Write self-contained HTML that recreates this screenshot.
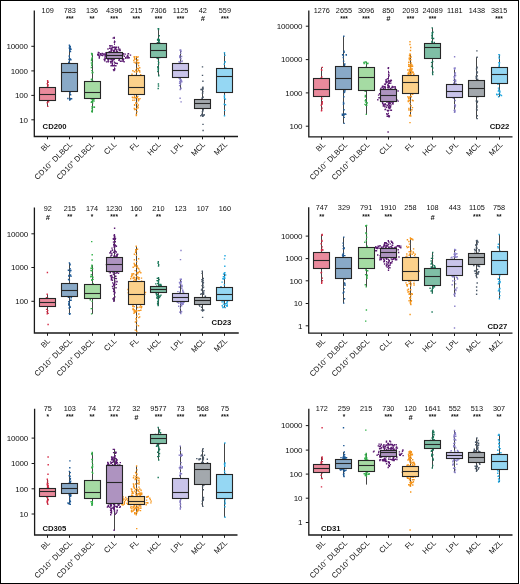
<!DOCTYPE html>
<html><head><meta charset="utf-8"><style>
html,body{margin:0;padding:0;background:#fff;}
body{width:520px;height:584px;position:relative;overflow:hidden;font-family:"Liberation Sans", sans-serif;}
svg text{font-family:"Liberation Sans", sans-serif;fill:#111;}
svg{will-change:transform;}
</style></head><body>
<svg width="520" height="584" viewBox="0 0 520 584" style="position:absolute;left:0;top:0">
<rect x="0" y="0" width="520" height="584" fill="#fff"/>
<rect x="0.5" y="0.5" width="518" height="583" fill="none" stroke="#000" stroke-width="1"/>
<g><line x1="47.5" y1="80.8" x2="47.5" y2="106.4" stroke="#454545" stroke-width="1" stroke-dasharray="none"/><path d="M48.0 84.7h0M47.2 94.5h0M45.9 93.8h0M47.4 93.4h0M48.1 91.8h0M49.1 98.8h0M47.3 102.8h0M47.3 83.8h0M48.0 85.5h0M46.0 95.0h0M47.5 98.2h0M47.5 95.8h0M48.2 101.1h0M47.8 95.5h0M49.2 97.4h0M48.6 91.5h0M46.0 93.3h0M48.6 101.9h0M48.0 98.6h0M48.1 100.1h0M48.1 98.8h0M47.3 97.3h0M46.8 88.1h0M48.2 82.3h0M47.4 87.1h0M47.8 88.3h0M47.3 88.9h0M46.5 95.8h0M47.7 86.8h0M47.4 94.4h0M47.6 80.8h0M47.8 106.4h0" stroke="#d52a45" stroke-width="1.4" stroke-linecap="square" fill="none"/><line x1="69.5" y1="45.2" x2="69.5" y2="100" stroke="#454545" stroke-width="1" stroke-dasharray="none"/><path d="M70.1 91.8h0M69.6 85.8h0M68.4 80.0h0M69.3 56.6h0M69.3 48.1h0M69.7 50.8h0M70.1 93.1h0M69.5 59.0h0M70.4 48.1h0M68.4 71.4h0M70.5 59.7h0M70.3 46.5h0M68.7 62.4h0M69.4 80.6h0M69.9 87.5h0M70.9 69.3h0M69.5 63.1h0M69.6 46.7h0M71.3 83.2h0M69.0 84.6h0M69.3 56.0h0M70.4 58.9h0M71.2 81.4h0M69.0 89.9h0M70.5 51.6h0M68.5 77.5h0M70.6 94.8h0M71.1 90.5h0M69.0 62.3h0M70.2 98.4h0M70.9 87.7h0M69.2 68.8h0M69.0 77.3h0M70.1 64.6h0M69.9 92.8h0M69.4 45.2h0M69.8 100.0h0M67.9 98.5h0M71.6 98.8h0M69.7 100.0h0M70.2 99.2h0M69.9 50.1h0M71.0 49.2h0M70.1 49.5h0M69.0 59.5h0M69.9 59.1h0M70.9 59.8h0M69.6 59.2h0" stroke="#1e5a96" stroke-width="1.4" stroke-linecap="square" fill="none"/><line x1="92.5" y1="53.4" x2="92.5" y2="112" stroke="#454545" stroke-width="1" stroke-dasharray="none"/><path d="M91.9 102.2h0M92.4 109.7h0M93.4 86.2h0M91.8 90.4h0M91.4 67.5h0M91.7 111.2h0M93.4 93.8h0M93.3 81.5h0M92.0 83.2h0M91.8 64.9h0M91.9 79.2h0M92.2 72.8h0M90.5 87.4h0M91.7 90.2h0M90.9 95.0h0M91.3 102.4h0M91.7 93.7h0M92.1 108.4h0M91.5 60.6h0M92.2 85.7h0M92.1 90.2h0M91.6 59.8h0M91.8 65.2h0M91.5 97.9h0M90.5 85.5h0M92.2 54.3h0M93.1 81.9h0M91.9 101.4h0M91.8 102.3h0M92.3 63.1h0M90.7 85.5h0M92.2 57.5h0M91.5 63.0h0M91.6 101.6h0M91.9 70.6h0M91.4 79.5h0M91.4 99.0h0M90.5 85.2h0M92.0 81.2h0M90.7 83.0h0M91.9 58.7h0M91.8 54.7h0M92.1 87.7h0M92.7 102.9h0M92.9 72.5h0M91.6 53.4h0M92.2 112.0h0M92.9 99.4h0M94.0 101.1h0M92.8 100.8h0M93.9 99.6h0M92.1 106.8h0M94.0 107.4h0M94.0 107.0h0M94.4 107.2h0" stroke="#33b24b" stroke-width="1.4" stroke-linecap="square" fill="none"/><line x1="114.5" y1="37.4" x2="114.5" y2="70.5" stroke="#5b1b72" stroke-width="1" stroke-dasharray="1.5 1.5"/><path d="M114.3 37.4h0M113.9 70.5h0M113.2 38.1h0M113.9 37.9h0M114.8 41.7h0M114.4 42.3h0M115.8 47.2h0M109.7 48.3h0M116.4 47.3h0M114.5 47.8h0M110.2 48.1h0M111.9 45.8h0M112.0 48.1h0M111.5 48.1h0M118.4 47.2h0M113.1 47.2h0M115.8 48.2h0M115.2 47.7h0M110.3 46.0h0M111.9 48.1h0M112.4 47.5h0M109.8 45.7h0M111.1 51.2h0M116.6 51.2h0M111.4 50.7h0M113.7 50.5h0M109.2 51.9h0M110.2 52.2h0M119.8 49.1h0M113.6 51.7h0M120.2 50.5h0M111.1 49.7h0M119.9 49.7h0M115.2 49.5h0M114.5 52.1h0M109.4 51.7h0M114.3 51.9h0M116.8 49.8h0M119.3 50.6h0M108.0 49.0h0M114.0 50.5h0M111.6 49.5h0M112.1 50.0h0M118.6 49.0h0M117.4 51.8h0M109.2 52.1h0M121.2 57.9h0M107.2 54.6h0M110.6 58.5h0M117.1 54.5h0M111.8 54.0h0M99.2 52.9h0M125.2 54.1h0M128.5 53.8h0M106.4 55.5h0M103.9 54.6h0M129.2 57.8h0M124.4 56.2h0M127.8 58.1h0M115.8 56.8h0M99.3 56.8h0M112.5 57.0h0M118.9 54.1h0M99.3 58.0h0M101.9 55.2h0M109.0 54.1h0M122.0 58.4h0M106.2 56.4h0M107.6 55.8h0M110.7 53.3h0M103.0 53.6h0M127.5 55.4h0M104.9 57.9h0M130.5 55.1h0M102.3 53.5h0M100.6 54.4h0M100.7 53.8h0M106.2 55.8h0M126.9 56.9h0M111.3 54.9h0M114.9 54.6h0M108.8 52.7h0M106.8 58.3h0M101.8 55.4h0M118.4 57.6h0M104.8 54.0h0M105.8 54.8h0M112.4 58.2h0M125.7 57.7h0M98.4 52.5h0M121.1 57.9h0M113.3 55.9h0M97.7 54.7h0M128.2 57.4h0M125.9 58.3h0M105.8 53.0h0M102.7 55.5h0M120.2 58.1h0M121.5 56.3h0M122.9 55.1h0M115.8 52.5h0M123.5 53.7h0M128.0 56.3h0M107.7 53.1h0M106.0 56.2h0M120.7 53.0h0M100.0 55.6h0M116.9 54.7h0M105.0 56.0h0M98.0 54.2h0M112.9 58.2h0M118.9 57.8h0M113.3 53.8h0M105.8 58.3h0M120.9 54.2h0M98.4 55.4h0M119.9 54.9h0M106.1 56.4h0M128.2 53.7h0M98.8 54.4h0M111.5 56.5h0M108.1 61.3h0M118.9 60.3h0M108.3 61.9h0M110.4 61.4h0M108.8 59.3h0M119.4 59.5h0M123.2 60.2h0M107.9 59.3h0M112.5 60.8h0M123.1 59.0h0M112.0 59.2h0M123.6 59.0h0M105.2 58.7h0M112.0 61.6h0M121.8 61.1h0M124.1 61.8h0M110.7 59.1h0M122.9 61.1h0M104.8 60.8h0M111.7 59.8h0M110.8 59.1h0M104.2 59.5h0M111.2 61.8h0M106.6 61.9h0M108.3 59.7h0M120.6 61.4h0M112.8 58.7h0M113.6 59.8h0M122.5 59.2h0M111.4 61.6h0M104.8 59.9h0M120.4 61.2h0M110.9 62.1h0M111.1 65.7h0M112.4 65.0h0M116.9 63.4h0M112.6 65.8h0M115.0 63.0h0M115.7 63.3h0M112.6 62.0h0M115.9 65.7h0M115.1 65.8h0M110.8 62.9h0M114.0 65.8h0M117.3 63.5h0M112.4 63.7h0M114.1 70.2h0M113.5 69.6h0M114.6 69.7h0M114.7 68.7h0" stroke="#5b1b72" stroke-width="1.4" stroke-linecap="square" fill="none"/><line x1="136.5" y1="56.6" x2="136.5" y2="115.5" stroke="#454545" stroke-width="1" stroke-dasharray="none"/><path d="M134.9 75.4h0M139.8 83.6h0M133.8 60.4h0M130.2 85.8h0M133.4 93.4h0M138.2 98.8h0M141.3 88.5h0M134.6 90.0h0M132.9 82.6h0M136.6 108.7h0M142.2 79.9h0M137.1 60.3h0M139.6 76.7h0M133.1 87.6h0M139.7 67.8h0M140.6 92.0h0M138.9 62.7h0M137.7 91.7h0M132.3 78.3h0M137.1 71.6h0M133.6 87.0h0M132.6 81.1h0M130.2 87.9h0M133.0 97.8h0M135.6 97.6h0M140.7 74.7h0M134.4 90.0h0M139.5 83.6h0M138.2 56.9h0M140.6 92.6h0M137.1 87.0h0M138.1 88.2h0M133.2 88.8h0M136.2 88.4h0M131.1 89.5h0M131.7 94.0h0M134.6 105.3h0M140.2 78.7h0M134.9 83.2h0M132.6 85.1h0M137.3 87.6h0M134.5 57.5h0M134.7 97.4h0M138.1 93.0h0M138.2 86.8h0M138.0 63.7h0M132.2 76.7h0M131.0 82.0h0M138.4 87.6h0M138.3 99.8h0M135.1 75.8h0M138.4 100.9h0M136.3 114.4h0M140.4 89.1h0M139.4 80.2h0M135.4 109.4h0M140.5 75.8h0M136.4 72.1h0M134.7 58.8h0M136.9 111.8h0M134.1 62.1h0M140.7 91.8h0M134.8 109.5h0M139.7 92.4h0M136.5 114.9h0M132.8 93.3h0M135.0 59.3h0M137.8 96.4h0M134.2 56.7h0M135.5 92.9h0M132.3 88.7h0M134.0 87.2h0M133.3 77.6h0M138.0 89.6h0M130.5 84.6h0M135.7 103.0h0M137.0 57.3h0M135.8 70.3h0M141.6 90.2h0M134.9 87.9h0M137.8 60.0h0M142.6 89.0h0M137.1 68.4h0M134.6 104.6h0M132.0 74.3h0M132.9 100.3h0M138.8 93.7h0M132.3 85.4h0M138.9 76.4h0M134.7 100.1h0M136.4 61.9h0M141.0 94.4h0M134.3 108.4h0M138.3 70.5h0M141.0 91.3h0M139.6 70.7h0M140.0 98.6h0M138.9 99.6h0M134.5 96.0h0M131.7 93.3h0M130.1 86.8h0M129.5 84.7h0M137.4 97.4h0M137.7 87.9h0M138.3 105.0h0M138.1 107.7h0M131.0 83.4h0M137.7 106.5h0M134.6 97.6h0M137.8 62.4h0M135.5 75.4h0M134.5 71.7h0M142.0 80.9h0M132.4 97.2h0M135.4 63.0h0M141.2 89.7h0M134.6 104.9h0M138.3 68.5h0M136.2 76.2h0M134.7 76.1h0M139.0 83.3h0M132.9 70.7h0M137.0 103.3h0M140.8 79.0h0M134.4 108.9h0M139.8 72.1h0M136.6 77.1h0M135.1 98.0h0M138.6 65.7h0M135.4 89.1h0M135.7 88.6h0M133.5 83.7h0M131.4 88.9h0M136.5 75.8h0M133.2 75.9h0M143.2 88.3h0M141.9 79.2h0M133.0 93.1h0M134.8 83.4h0M139.8 80.1h0M136.0 97.6h0M135.2 92.2h0M137.1 93.0h0M139.3 83.0h0M138.8 99.7h0M134.3 93.5h0M139.4 78.3h0M135.3 90.2h0M138.3 92.7h0M138.5 69.9h0M136.2 56.6h0M136.3 115.5h0" stroke="#f6961c" stroke-width="1.4" stroke-linecap="square" fill="none"/><line x1="158.5" y1="28.6" x2="158.5" y2="75.9" stroke="#454545" stroke-width="1" stroke-dasharray="none"/><path d="M157.4 42.6h0M157.2 58.3h0M158.5 64.2h0M158.2 58.4h0M158.2 39.1h0M157.4 49.6h0M158.2 45.0h0M157.3 47.2h0M157.6 58.5h0M156.9 47.9h0M158.4 61.4h0M159.3 40.4h0M158.6 46.8h0M158.2 68.0h0M157.6 45.6h0M159.6 50.2h0M158.0 40.2h0M158.9 40.4h0M157.8 71.6h0M157.8 67.2h0M156.0 50.4h0M156.8 53.4h0M159.1 39.7h0M159.2 35.8h0M158.6 28.8h0M158.8 75.1h0M158.5 38.8h0M158.5 29.5h0M157.6 39.7h0M157.3 44.1h0M159.5 42.7h0M158.4 68.4h0M158.3 70.6h0M159.1 51.1h0M158.9 41.1h0M159.7 57.6h0M158.7 62.6h0M158.2 69.4h0M157.9 66.6h0M159.4 42.4h0M158.2 28.6h0M158.8 75.9h0M158.4 84.0h0M158.5 86.0h0M158.2 88.5h0" stroke="#19785a" stroke-width="1.4" stroke-linecap="square" fill="none"/><line x1="180.5" y1="49.9" x2="180.5" y2="89.5" stroke="#454545" stroke-width="1" stroke-dasharray="none"/><path d="M181.5 80.8h0M179.9 62.5h0M179.6 85.6h0M179.0 78.1h0M180.1 50.1h0M181.4 80.9h0M181.0 79.8h0M179.8 81.6h0M179.7 56.0h0M181.1 51.4h0M182.0 74.7h0M179.6 73.1h0M181.2 64.6h0M179.0 61.9h0M180.8 82.0h0M179.9 70.0h0M178.9 64.9h0M178.0 68.5h0M179.2 77.0h0M180.0 50.1h0M179.7 78.4h0M182.2 69.6h0M179.6 83.3h0M182.3 76.3h0M181.0 88.1h0M180.8 50.5h0M181.7 66.4h0M180.6 84.0h0M180.9 64.5h0M182.2 71.7h0M180.3 80.1h0M179.9 78.6h0M181.0 88.5h0M182.1 61.0h0M180.3 73.8h0M180.9 58.8h0M178.2 73.5h0M181.0 66.6h0M182.5 70.5h0M179.8 78.7h0M181.8 81.8h0M180.7 53.3h0M181.6 56.5h0M181.4 73.9h0M181.8 67.2h0M182.3 69.2h0M181.9 61.6h0M180.9 76.6h0M179.8 57.5h0M180.3 61.9h0M180.6 49.9h0M180.2 89.5h0M180.1 98.2h0M181.1 101.9h0" stroke="#8a80c9" stroke-width="1.4" stroke-linecap="square" fill="none"/><line x1="202.5" y1="87.3" x2="202.5" y2="116.4" stroke="#454545" stroke-width="1" stroke-dasharray="none"/><path d="M203.3 97.1h0M202.2 104.7h0M204.7 103.1h0M202.2 98.1h0M203.3 115.9h0M202.5 88.4h0M202.3 89.7h0M203.9 107.8h0M202.5 97.6h0M202.4 115.2h0M202.6 107.0h0M203.4 115.4h0M202.6 88.4h0M203.9 103.7h0M203.7 102.3h0M203.0 105.9h0M202.0 100.9h0M201.7 101.3h0M202.9 91.5h0M202.0 108.2h0M202.3 114.3h0M201.7 99.6h0M202.7 110.6h0M202.7 111.3h0M201.2 101.7h0M204.1 104.5h0M201.9 99.3h0M202.4 111.7h0M202.1 101.6h0M202.9 89.3h0M202.1 101.2h0M202.6 93.2h0M204.0 101.2h0M202.2 108.4h0M202.5 93.1h0M203.0 87.4h0M203.9 99.8h0M201.4 103.9h0M203.2 109.7h0M202.4 89.6h0M202.9 87.3h0M202.7 116.4h0M202.5 66.9h0M202.5 75.4h0M202.9 81.2h0M203.0 124.4h0M203.1 130.5h0M203.1 88.4h0M201.0 89.5h0M202.4 89.4h0M201.0 89.6h0M202.1 89.7h0M204.2 115.0h0M200.8 115.8h0M202.7 115.7h0M201.8 114.4h0M204.1 114.7h0" stroke="#4a5868" stroke-width="1.4" stroke-linecap="square" fill="none"/><line x1="224.5" y1="52.8" x2="224.5" y2="115.7" stroke="#454545" stroke-width="1" stroke-dasharray="none"/><path d="M225.2 76.1h0M224.8 85.5h0M225.3 61.9h0M224.7 62.1h0M224.9 91.9h0M226.3 76.9h0M224.3 64.3h0M224.3 104.2h0M224.4 96.8h0M225.1 90.5h0M225.9 78.9h0M224.9 74.9h0M224.6 74.9h0M225.6 90.0h0M225.4 88.8h0M225.5 104.8h0M224.9 55.3h0M224.7 110.4h0M224.7 73.9h0M225.7 68.0h0M225.2 70.1h0M224.7 78.0h0M226.2 74.7h0M225.4 99.1h0M225.3 77.2h0M224.5 95.5h0M224.5 98.4h0M225.2 72.2h0M225.8 90.2h0M225.0 69.1h0M224.5 52.8h0M224.5 115.7h0" stroke="#1fa7e1" stroke-width="1.4" stroke-linecap="square" fill="none"/><rect x="39.5" y="87.5" width="16" height="13.0" fill="#e98a9c" stroke="#262626" stroke-width="1.1"/><line x1="39.5" y1="94.5" x2="55.5" y2="94.5" stroke="#262626" stroke-width="1.1"/><rect x="61.5" y="63.5" width="16" height="28.0" fill="#89a9c7" stroke="#262626" stroke-width="1.1"/><line x1="61.5" y1="72.5" x2="77.5" y2="72.5" stroke="#262626" stroke-width="1.1"/><rect x="84.5" y="81.5" width="16" height="17.0" fill="#a5dba3" stroke="#262626" stroke-width="1.1"/><line x1="84.5" y1="92.5" x2="100.5" y2="92.5" stroke="#262626" stroke-width="1.1"/><rect x="106.5" y="52.5" width="16" height="6.0" fill="#ae93c0" stroke="#262626" stroke-width="1.1"/><line x1="106.5" y1="55.5" x2="122.5" y2="55.5" stroke="#262626" stroke-width="1.1"/><rect x="128.5" y="75.5" width="16" height="19.0" fill="#fcd18b" stroke="#262626" stroke-width="1.1"/><line x1="128.5" y1="87.5" x2="144.5" y2="87.5" stroke="#262626" stroke-width="1.1"/><rect x="150.5" y="43.5" width="16" height="14.0" fill="#7fbfa6" stroke="#262626" stroke-width="1.1"/><line x1="150.5" y1="50.5" x2="166.5" y2="50.5" stroke="#262626" stroke-width="1.1"/><rect x="172.5" y="63.5" width="16" height="14.0" fill="#c9c4ea" stroke="#262626" stroke-width="1.1"/><line x1="172.5" y1="70.5" x2="188.5" y2="70.5" stroke="#262626" stroke-width="1.1"/><rect x="194.5" y="99.5" width="16" height="9.0" fill="#a3a8ad" stroke="#262626" stroke-width="1.1"/><line x1="194.5" y1="103.5" x2="210.5" y2="103.5" stroke="#262626" stroke-width="1.1"/><rect x="216.5" y="68.5" width="16" height="24.0" fill="#95d7f3" stroke="#262626" stroke-width="1.1"/><line x1="216.5" y1="76.5" x2="232.5" y2="76.5" stroke="#262626" stroke-width="1.1"/><path d="M34.3 10.6 V136.5 H238" fill="none" stroke="#1a1a1a" stroke-width="1.3"/><line x1="31.299999999999997" y1="46.3" x2="34.3" y2="46.3" stroke="#1a1a1a" stroke-width="1"/><text x="27.799999999999997" y="49.0" text-anchor="end" font-size="8" letter-spacing="-0.2">10000</text><line x1="31.299999999999997" y1="70.9" x2="34.3" y2="70.9" stroke="#1a1a1a" stroke-width="1"/><text x="27.799999999999997" y="73.60000000000001" text-anchor="end" font-size="8" letter-spacing="-0.2">1000</text><line x1="31.299999999999997" y1="95.4" x2="34.3" y2="95.4" stroke="#1a1a1a" stroke-width="1"/><text x="27.799999999999997" y="98.10000000000001" text-anchor="end" font-size="8" letter-spacing="-0.2">100</text><line x1="31.299999999999997" y1="119.8" x2="34.3" y2="119.8" stroke="#1a1a1a" stroke-width="1"/><text x="27.799999999999997" y="122.5" text-anchor="end" font-size="8" letter-spacing="-0.2">10</text><line x1="47.5" y1="136.5" x2="47.5" y2="139.3" stroke="#1a1a1a" stroke-width="1"/><text x="50.6" y="145.0" text-anchor="end" font-size="7.7" transform="rotate(-45 50.6 145.0)">BL</text><text x="47.7" y="12.6" text-anchor="middle" font-size="7.3">109</text><line x1="69.5" y1="136.5" x2="69.5" y2="139.3" stroke="#1a1a1a" stroke-width="1"/><text x="72.75" y="145.0" text-anchor="end" font-size="7.7" transform="rotate(-45 72.75 145.0)">CD10<tspan font-size="5.5" dy="-2.8">−</tspan><tspan dy="2.8"> DLBCL</tspan></text><text x="69.85" y="12.6" text-anchor="middle" font-size="7.3">783</text><text x="69.85" y="20.7" text-anchor="middle" font-size="6.5" font-weight="bold" fill="#222">***</text><line x1="92.5" y1="136.5" x2="92.5" y2="139.3" stroke="#1a1a1a" stroke-width="1"/><text x="94.9" y="145.0" text-anchor="end" font-size="7.7" transform="rotate(-45 94.9 145.0)">CD10<tspan font-size="5.5" dy="-2.8">+</tspan><tspan dy="2.8"> DLBCL</tspan></text><text x="92.0" y="12.6" text-anchor="middle" font-size="7.3">136</text><text x="92.0" y="20.7" text-anchor="middle" font-size="6.5" font-weight="bold" fill="#222">**</text><line x1="114.5" y1="136.5" x2="114.5" y2="139.3" stroke="#1a1a1a" stroke-width="1"/><text x="117.05000000000001" y="145.0" text-anchor="end" font-size="7.7" transform="rotate(-45 117.05000000000001 145.0)">CLL</text><text x="114.15" y="12.6" text-anchor="middle" font-size="7.3">4396</text><text x="114.15" y="20.7" text-anchor="middle" font-size="6.5" font-weight="bold" fill="#222">***</text><line x1="136.5" y1="136.5" x2="136.5" y2="139.3" stroke="#1a1a1a" stroke-width="1"/><text x="139.20000000000002" y="145.0" text-anchor="end" font-size="7.7" transform="rotate(-45 139.20000000000002 145.0)">FL</text><text x="136.3" y="12.6" text-anchor="middle" font-size="7.3">215</text><text x="136.3" y="20.7" text-anchor="middle" font-size="6.5" font-weight="bold" fill="#222">***</text><line x1="158.5" y1="136.5" x2="158.5" y2="139.3" stroke="#1a1a1a" stroke-width="1"/><text x="161.35" y="145.0" text-anchor="end" font-size="7.7" transform="rotate(-45 161.35 145.0)">HCL</text><text x="158.45" y="12.6" text-anchor="middle" font-size="7.3">7306</text><text x="158.45" y="20.7" text-anchor="middle" font-size="6.5" font-weight="bold" fill="#222">***</text><line x1="180.5" y1="136.5" x2="180.5" y2="139.3" stroke="#1a1a1a" stroke-width="1"/><text x="183.5" y="145.0" text-anchor="end" font-size="7.7" transform="rotate(-45 183.5 145.0)">LPL</text><text x="180.6" y="12.6" text-anchor="middle" font-size="7.3">1125</text><text x="180.6" y="20.7" text-anchor="middle" font-size="6.5" font-weight="bold" fill="#222">***</text><line x1="202.5" y1="136.5" x2="202.5" y2="139.3" stroke="#1a1a1a" stroke-width="1"/><text x="205.65" y="145.0" text-anchor="end" font-size="7.7" transform="rotate(-45 205.65 145.0)">MCL</text><text x="202.75" y="12.6" text-anchor="middle" font-size="7.3">42</text><text x="202.75" y="21.2" text-anchor="middle" font-size="7.4" font-style="italic" font-weight="bold" fill="#222">#</text><line x1="224.5" y1="136.5" x2="224.5" y2="139.3" stroke="#1a1a1a" stroke-width="1"/><text x="227.8" y="145.0" text-anchor="end" font-size="7.7" transform="rotate(-45 227.8 145.0)">MZL</text><text x="224.9" y="12.6" text-anchor="middle" font-size="7.3">559</text><text x="224.9" y="20.7" text-anchor="middle" font-size="6.5" font-weight="bold" fill="#222">***</text><text x="42.6" y="128.6" text-anchor="start" font-size="7.7" font-weight="bold">CD200</text></g>
<g><line x1="321.5" y1="67.4" x2="321.5" y2="110.8" stroke="#454545" stroke-width="1" stroke-dasharray="none"/><path d="M321.6 80.1h0M321.1 78.0h0M321.9 98.9h0M321.7 70.3h0M321.4 95.9h0M321.8 77.0h0M321.4 89.9h0M321.8 77.0h0M321.7 110.3h0M322.9 88.7h0M321.7 82.1h0M323.0 85.8h0M321.5 83.3h0M322.1 108.1h0M322.1 102.9h0M322.3 101.7h0M321.3 105.2h0M322.7 96.5h0M321.6 98.8h0M321.5 69.6h0M321.4 94.5h0M321.7 96.5h0M321.1 80.6h0M323.0 90.7h0M322.2 104.0h0M322.3 67.4h0M321.5 110.8h0" stroke="#d52a45" stroke-width="1.4" stroke-linecap="square" fill="none"/><line x1="343.5" y1="36.3" x2="343.5" y2="123.4" stroke="#454545" stroke-width="1" stroke-dasharray="none"/><path d="M342.6 79.1h0M344.9 90.8h0M343.8 96.7h0M345.0 85.6h0M343.6 80.5h0M344.6 92.1h0M344.2 68.4h0M344.5 65.2h0M344.8 64.0h0M345.1 80.7h0M343.2 87.3h0M344.0 80.9h0M344.1 52.2h0M343.7 79.6h0M343.3 57.6h0M344.0 109.7h0M344.1 66.4h0M344.0 92.6h0M343.2 87.1h0M343.5 102.5h0M344.0 51.2h0M343.5 104.3h0M343.8 103.4h0M343.3 75.5h0M344.0 115.0h0M343.7 75.5h0M344.0 113.9h0M343.6 61.3h0M344.2 117.4h0M344.2 114.6h0M343.8 36.3h0M344.1 123.4h0M346.3 55.1h0M346.2 54.6h0M343.4 55.5h0M342.6 54.7h0M345.8 114.4h0M345.4 113.9h0M342.3 114.1h0M342.4 115.3h0" stroke="#1e5a96" stroke-width="1.4" stroke-linecap="square" fill="none"/><line x1="366.5" y1="62" x2="366.5" y2="114.4" stroke="#454545" stroke-width="1" stroke-dasharray="none"/><path d="M365.2 91.4h0M364.9 70.1h0M365.9 105.3h0M365.4 72.0h0M366.5 63.8h0M366.7 70.2h0M367.4 76.1h0M367.1 85.2h0M366.8 71.2h0M367.7 81.5h0M365.1 68.9h0M365.4 85.8h0M366.2 67.3h0M365.9 102.4h0M365.8 84.1h0M367.2 71.3h0M365.3 96.7h0M365.6 67.7h0M365.1 78.3h0M365.7 99.6h0M366.7 105.3h0M364.6 72.7h0M365.9 85.3h0M367.3 82.5h0M364.8 80.9h0M365.3 100.7h0M365.2 70.5h0M364.6 82.0h0M365.4 95.4h0M365.7 100.9h0M366.1 62.0h0M366.3 114.4h0M365.4 62.0h0M367.8 63.6h0M365.1 62.1h0M367.9 63.2h0M363.9 62.5h0M364.2 63.6h0M365.0 104.4h0M367.1 102.8h0M366.9 103.4h0" stroke="#33b24b" stroke-width="1.4" stroke-linecap="square" fill="none"/><line x1="388.5" y1="67.7" x2="388.5" y2="116.5" stroke="#5b1b72" stroke-width="1" stroke-dasharray="1.5 1.5"/><path d="M388.5 67.7h0M388.6 116.5h0M388.1 132.0h0M387.3 78.9h0M388.1 78.7h0M388.7 76.4h0M389.1 75.1h0M388.2 68.2h0M388.8 72.7h0M388.3 78.6h0M385.3 84.5h0M384.6 84.1h0M390.7 81.2h0M388.7 85.8h0M389.4 83.0h0M386.3 79.9h0M387.1 82.2h0M385.9 81.5h0M385.4 84.1h0M389.6 81.0h0M386.2 82.8h0M387.8 85.6h0M387.1 81.4h0M391.4 80.4h0M388.8 81.7h0M390.8 83.1h0M390.4 80.6h0M389.6 83.4h0M388.0 84.5h0M390.9 80.2h0M386.6 81.8h0M385.9 79.9h0M384.8 86.8h0M391.5 87.9h0M382.1 87.4h0M387.8 87.5h0M383.0 86.3h0M380.5 90.2h0M392.3 86.4h0M391.8 90.1h0M389.3 86.5h0M388.1 87.8h0M383.3 88.3h0M380.4 89.9h0M390.6 88.6h0M395.2 88.7h0M384.3 87.0h0M382.5 86.1h0M392.7 89.5h0M385.0 86.8h0M390.5 89.6h0M395.1 86.7h0M392.8 89.5h0M392.2 87.4h0M383.2 89.5h0M385.4 87.5h0M389.1 87.6h0M393.6 87.0h0M380.9 88.4h0M390.3 89.4h0M391.6 89.8h0M395.4 88.1h0M388.3 86.7h0M385.1 88.4h0M379.5 97.9h0M381.2 95.1h0M398.1 91.0h0M378.6 95.1h0M381.8 98.3h0M377.8 99.7h0M395.7 99.0h0M386.7 93.3h0M391.7 95.9h0M386.6 93.9h0M387.0 97.7h0M395.1 100.4h0M381.2 93.4h0M387.1 96.5h0M385.1 92.2h0M379.6 93.7h0M387.4 101.2h0M396.9 100.0h0M398.2 101.1h0M390.8 99.3h0M379.0 97.8h0M390.6 93.4h0M389.8 101.0h0M387.9 97.4h0M384.1 93.9h0M396.4 90.3h0M384.2 104.6h0M387.6 101.9h0M390.4 103.2h0M389.3 103.4h0M388.7 104.0h0M386.9 102.0h0M384.1 105.5h0M388.9 102.0h0M393.0 102.6h0M383.0 103.9h0M385.1 103.7h0M389.0 102.5h0M389.2 102.0h0M388.5 104.1h0M382.8 103.3h0M382.7 103.5h0M393.0 104.0h0M391.1 104.9h0M383.3 106.0h0M391.2 102.0h0M392.6 103.3h0M384.0 105.8h0M389.1 105.0h0M383.6 105.0h0M382.5 102.6h0M386.6 101.6h0M389.5 102.5h0M385.7 104.7h0M387.3 105.5h0M389.9 105.4h0M389.1 105.6h0M393.1 102.3h0M390.0 108.0h0M390.1 110.1h0M390.6 106.7h0M387.4 110.4h0M391.4 110.3h0M385.1 109.6h0M385.5 109.3h0M390.4 106.7h0M391.3 110.1h0M386.6 107.2h0M387.9 111.0h0M388.8 106.7h0M384.9 106.7h0M390.4 107.1h0M388.7 107.7h0M389.6 108.3h0M387.2 116.4h0M388.4 115.4h0M389.2 116.7h0M386.8 113.7h0M387.2 114.5h0M389.4 116.0h0" stroke="#5b1b72" stroke-width="1.4" stroke-linecap="square" fill="none"/><line x1="410.5" y1="54" x2="410.5" y2="116" stroke="#454545" stroke-width="1" stroke-dasharray="none"/><path d="M411.8 65.3h0M407.8 75.5h0M410.8 59.8h0M408.4 74.4h0M406.6 83.4h0M409.7 73.1h0M409.3 73.1h0M416.2 82.5h0M411.1 63.0h0M410.4 70.9h0M410.7 89.3h0M411.2 83.2h0M411.0 105.7h0M413.3 79.0h0M409.3 100.4h0M411.4 93.7h0M406.7 90.7h0M413.9 74.0h0M407.8 79.6h0M408.7 62.4h0M411.0 76.1h0M408.7 64.5h0M412.0 73.1h0M414.3 89.1h0M411.3 80.5h0M410.1 66.2h0M413.5 75.3h0M407.8 70.0h0M411.6 70.6h0M407.6 78.8h0M408.6 98.8h0M407.7 96.9h0M407.1 89.1h0M414.1 87.3h0M408.7 86.4h0M412.0 90.7h0M410.2 57.6h0M409.2 92.8h0M410.1 87.3h0M410.7 111.4h0M411.9 72.1h0M409.4 59.8h0M408.3 101.6h0M411.1 74.1h0M409.3 96.9h0M411.8 68.9h0M412.6 66.2h0M413.7 74.5h0M410.4 54.6h0M414.8 89.7h0M408.2 100.9h0M408.9 62.3h0M415.1 85.8h0M412.9 80.5h0M413.7 82.4h0M410.4 114.9h0M410.3 64.8h0M409.0 110.0h0M409.9 71.2h0M409.8 73.5h0M408.7 97.9h0M410.1 70.3h0M411.6 66.6h0M408.1 73.3h0M412.9 87.5h0M410.3 78.2h0M411.0 69.9h0M409.6 115.8h0M412.0 65.9h0M412.5 107.6h0M409.5 55.5h0M409.6 55.7h0M412.4 80.6h0M413.6 75.1h0M413.4 79.7h0M408.4 74.9h0M416.3 82.5h0M408.9 108.5h0M407.8 76.5h0M410.4 67.8h0M410.4 75.9h0M415.2 80.0h0M407.3 87.6h0M409.2 58.3h0M409.5 73.7h0M411.4 96.7h0M413.1 100.8h0M408.9 90.6h0M409.4 90.3h0M413.2 72.3h0M409.4 91.9h0M408.7 66.3h0M409.5 69.5h0M414.8 88.6h0M412.4 100.3h0M411.9 71.7h0M410.7 90.4h0M411.6 88.7h0M408.9 72.2h0M410.6 68.5h0M415.1 81.0h0M412.7 94.3h0M411.8 64.7h0M411.9 109.8h0M413.3 77.4h0M407.8 80.8h0M412.9 76.1h0M409.3 81.7h0M410.3 91.9h0M412.4 85.2h0M409.1 86.9h0M406.2 77.6h0M406.5 89.4h0M409.1 98.5h0M412.2 69.0h0M413.1 93.4h0M413.5 80.2h0M409.8 82.2h0M409.6 88.1h0M409.4 89.4h0M415.3 86.0h0M409.5 70.5h0M409.8 100.9h0M411.1 57.0h0M410.1 90.8h0M410.2 91.0h0M410.5 75.2h0M410.0 103.5h0M410.8 96.2h0M407.4 84.6h0M410.0 54.0h0M410.8 116.0h0M410.0 41.7h0M410.0 44.5h0M410.7 47.5h0M410.5 50.5h0M410.0 122.6h0" stroke="#f6961c" stroke-width="1.4" stroke-linecap="square" fill="none"/><line x1="432.5" y1="27.9" x2="432.5" y2="74.6" stroke="#454545" stroke-width="1" stroke-dasharray="none"/><path d="M430.9 57.7h0M434.3 42.5h0M431.7 49.8h0M431.7 45.6h0M432.7 68.0h0M431.5 47.0h0M430.3 46.1h0M432.6 43.9h0M432.0 38.4h0M431.5 48.1h0M432.0 42.7h0M432.0 65.1h0M432.5 61.4h0M431.9 35.8h0M434.7 48.1h0M431.3 55.7h0M432.6 72.7h0M431.2 52.8h0M432.3 33.6h0M432.9 32.3h0M431.9 41.4h0M430.2 49.9h0M432.2 37.4h0M431.8 55.1h0M432.4 34.0h0M433.6 38.5h0M433.2 44.7h0M430.7 53.4h0M433.3 56.1h0M431.6 66.6h0M431.9 52.7h0M432.2 32.7h0M432.7 61.6h0M432.3 34.4h0M434.7 51.4h0M434.6 55.9h0M432.9 72.0h0M432.4 43.5h0M431.6 62.6h0M432.9 46.9h0M432.2 27.9h0M432.7 74.6h0" stroke="#19785a" stroke-width="1.4" stroke-linecap="square" fill="none"/><line x1="454.5" y1="68" x2="454.5" y2="112.3" stroke="#454545" stroke-width="1" stroke-dasharray="none"/><path d="M453.2 96.6h0M453.8 80.4h0M455.4 86.3h0M455.6 75.5h0M455.4 105.3h0M456.5 90.2h0M454.9 90.0h0M453.3 88.7h0M453.6 95.2h0M453.6 89.8h0M454.2 110.4h0M454.9 74.9h0M454.1 76.8h0M454.6 69.4h0M454.3 68.2h0M455.5 81.8h0M455.2 88.3h0M455.3 81.2h0M454.7 73.9h0M453.3 85.8h0M455.2 100.5h0M453.7 83.3h0M454.4 77.7h0M454.7 104.8h0M455.0 111.9h0M455.7 81.0h0M454.4 78.1h0M455.0 110.8h0M455.4 72.9h0M455.2 106.7h0M455.2 73.1h0M456.2 93.7h0M454.7 76.8h0M456.6 89.8h0M455.8 95.5h0M453.3 95.7h0M455.1 94.8h0M454.7 91.2h0M455.2 72.9h0M454.2 96.5h0M455.8 83.7h0M453.7 90.2h0M455.5 80.0h0M453.4 98.3h0M456.6 87.9h0M454.9 68.3h0M456.2 84.0h0M456.2 93.0h0M452.3 91.4h0M454.7 109.9h0M455.1 68.0h0M454.5 112.3h0M454.6 56.7h0" stroke="#8a80c9" stroke-width="1.4" stroke-linecap="square" fill="none"/><line x1="476.5" y1="57.2" x2="476.5" y2="118.6" stroke="#454545" stroke-width="1" stroke-dasharray="none"/><path d="M477.9 91.1h0M476.3 101.0h0M477.1 75.8h0M477.5 101.3h0M477.1 67.2h0M477.4 72.1h0M476.4 89.2h0M477.2 115.7h0M477.1 93.3h0M477.4 81.3h0M476.7 71.6h0M477.1 107.0h0M477.2 102.5h0M477.0 67.1h0M476.1 93.5h0M477.6 90.8h0M476.2 76.4h0M477.8 80.7h0M478.0 84.4h0M476.8 76.9h0M476.8 73.2h0M476.2 92.2h0M477.0 67.1h0M477.6 86.8h0M477.3 101.1h0M477.7 79.5h0M476.5 76.9h0M477.0 67.8h0M476.3 92.2h0M477.6 90.9h0M476.5 69.0h0M477.8 96.8h0M476.8 105.4h0M476.7 93.4h0M477.9 86.3h0M477.5 101.1h0M476.2 78.0h0M477.1 110.0h0M476.5 78.6h0M476.6 109.1h0M477.1 57.2h0M477.2 118.6h0M476.9 50.9h0" stroke="#4a5868" stroke-width="1.4" stroke-linecap="square" fill="none"/><line x1="499.5" y1="54.6" x2="499.5" y2="96.8" stroke="#454545" stroke-width="1" stroke-dasharray="none"/><path d="M499.6 92.2h0M499.8 76.1h0M497.7 78.5h0M498.2 78.4h0M499.3 58.6h0M499.7 80.1h0M498.8 90.0h0M498.1 81.2h0M499.0 57.1h0M500.4 74.7h0M499.3 64.1h0M499.3 68.6h0M498.5 88.1h0M498.0 84.4h0M498.9 67.3h0M499.7 81.2h0M499.3 67.2h0M499.9 91.2h0M500.6 79.5h0M497.7 74.8h0M499.0 90.6h0M498.9 62.6h0M499.5 62.8h0M499.8 72.0h0M499.2 65.8h0M499.8 92.5h0M498.3 91.1h0M499.5 55.1h0M498.6 78.3h0M500.5 81.3h0M498.9 54.6h0M498.6 96.8h0M497.1 94.7h0M501.5 95.6h0M498.8 94.2h0M496.7 94.3h0M500.7 94.9h0" stroke="#1fa7e1" stroke-width="1.4" stroke-linecap="square" fill="none"/><rect x="313.5" y="78.5" width="16" height="18.0" fill="#e98a9c" stroke="#262626" stroke-width="1.1"/><line x1="313.5" y1="89.5" x2="329.5" y2="89.5" stroke="#262626" stroke-width="1.1"/><rect x="335.5" y="66.5" width="16" height="23.0" fill="#89a9c7" stroke="#262626" stroke-width="1.1"/><line x1="335.5" y1="78.5" x2="351.5" y2="78.5" stroke="#262626" stroke-width="1.1"/><rect x="358.5" y="67.5" width="16" height="23.0" fill="#a5dba3" stroke="#262626" stroke-width="1.1"/><line x1="358.5" y1="77.5" x2="374.5" y2="77.5" stroke="#262626" stroke-width="1.1"/><rect x="380.5" y="89.5" width="16" height="12.0" fill="#ae93c0" stroke="#262626" stroke-width="1.1"/><line x1="380.5" y1="95.5" x2="396.5" y2="95.5" stroke="#262626" stroke-width="1.1"/><rect x="402.5" y="75.5" width="16" height="18.0" fill="#fcd18b" stroke="#262626" stroke-width="1.1"/><line x1="402.5" y1="82.5" x2="418.5" y2="82.5" stroke="#262626" stroke-width="1.1"/><rect x="424.5" y="43.5" width="16" height="15.0" fill="#7fbfa6" stroke="#262626" stroke-width="1.1"/><line x1="424.5" y1="47.5" x2="440.5" y2="47.5" stroke="#262626" stroke-width="1.1"/><rect x="446.5" y="84.5" width="16" height="13.0" fill="#c9c4ea" stroke="#262626" stroke-width="1.1"/><line x1="446.5" y1="91.5" x2="462.5" y2="91.5" stroke="#262626" stroke-width="1.1"/><rect x="468.5" y="80.5" width="16" height="16.0" fill="#a3a8ad" stroke="#262626" stroke-width="1.1"/><line x1="468.5" y1="88.5" x2="484.5" y2="88.5" stroke="#262626" stroke-width="1.1"/><rect x="491.5" y="67.5" width="16" height="16.0" fill="#95d7f3" stroke="#262626" stroke-width="1.1"/><line x1="491.5" y1="74.5" x2="507.5" y2="74.5" stroke="#262626" stroke-width="1.1"/><path d="M308.8 10.6 V136.8 H512.5" fill="none" stroke="#1a1a1a" stroke-width="1.3"/><line x1="305.8" y1="26.2" x2="308.8" y2="26.2" stroke="#1a1a1a" stroke-width="1"/><text x="302.3" y="28.9" text-anchor="end" font-size="8" letter-spacing="-0.2">100000</text><line x1="305.8" y1="59.6" x2="308.8" y2="59.6" stroke="#1a1a1a" stroke-width="1"/><text x="302.3" y="62.300000000000004" text-anchor="end" font-size="8" letter-spacing="-0.2">10000</text><line x1="305.8" y1="92.9" x2="308.8" y2="92.9" stroke="#1a1a1a" stroke-width="1"/><text x="302.3" y="95.60000000000001" text-anchor="end" font-size="8" letter-spacing="-0.2">1000</text><line x1="305.8" y1="126.2" x2="308.8" y2="126.2" stroke="#1a1a1a" stroke-width="1"/><text x="302.3" y="128.9" text-anchor="end" font-size="8" letter-spacing="-0.2">100</text><line x1="321.5" y1="136.8" x2="321.5" y2="139.60000000000002" stroke="#1a1a1a" stroke-width="1"/><text x="325.7" y="145.3" text-anchor="end" font-size="7.7" transform="rotate(-45 325.7 145.3)">BL</text><text x="321.8" y="12.6" text-anchor="middle" font-size="7.3">1276</text><line x1="343.5" y1="136.8" x2="343.5" y2="139.60000000000002" stroke="#1a1a1a" stroke-width="1"/><text x="347.85999999999996" y="145.3" text-anchor="end" font-size="7.7" transform="rotate(-45 347.85999999999996 145.3)">CD10<tspan font-size="5.5" dy="-2.8">−</tspan><tspan dy="2.8"> DLBCL</tspan></text><text x="343.96" y="12.6" text-anchor="middle" font-size="7.3">2655</text><text x="343.96" y="20.7" text-anchor="middle" font-size="6.5" font-weight="bold" fill="#222">***</text><line x1="366.5" y1="136.8" x2="366.5" y2="139.60000000000002" stroke="#1a1a1a" stroke-width="1"/><text x="370.02" y="145.3" text-anchor="end" font-size="7.7" transform="rotate(-45 370.02 145.3)">CD10<tspan font-size="5.5" dy="-2.8">+</tspan><tspan dy="2.8"> DLBCL</tspan></text><text x="366.12" y="12.6" text-anchor="middle" font-size="7.3">3096</text><text x="366.12" y="20.7" text-anchor="middle" font-size="6.5" font-weight="bold" fill="#222">***</text><line x1="388.5" y1="136.8" x2="388.5" y2="139.60000000000002" stroke="#1a1a1a" stroke-width="1"/><text x="392.17999999999995" y="145.3" text-anchor="end" font-size="7.7" transform="rotate(-45 392.17999999999995 145.3)">CLL</text><text x="388.28" y="12.6" text-anchor="middle" font-size="7.3">850</text><text x="388.28" y="21.2" text-anchor="middle" font-size="7.4" font-style="italic" font-weight="bold" fill="#222">#</text><line x1="410.5" y1="136.8" x2="410.5" y2="139.60000000000002" stroke="#1a1a1a" stroke-width="1"/><text x="414.34" y="145.3" text-anchor="end" font-size="7.7" transform="rotate(-45 414.34 145.3)">FL</text><text x="410.44" y="12.6" text-anchor="middle" font-size="7.3">2093</text><text x="410.44" y="20.7" text-anchor="middle" font-size="6.5" font-weight="bold" fill="#222">***</text><line x1="432.5" y1="136.8" x2="432.5" y2="139.60000000000002" stroke="#1a1a1a" stroke-width="1"/><text x="436.5" y="145.3" text-anchor="end" font-size="7.7" transform="rotate(-45 436.5 145.3)">HCL</text><text x="432.6" y="12.6" text-anchor="middle" font-size="7.3">24089</text><text x="432.6" y="20.7" text-anchor="middle" font-size="6.5" font-weight="bold" fill="#222">***</text><line x1="454.5" y1="136.8" x2="454.5" y2="139.60000000000002" stroke="#1a1a1a" stroke-width="1"/><text x="458.65999999999997" y="145.3" text-anchor="end" font-size="7.7" transform="rotate(-45 458.65999999999997 145.3)">LPL</text><text x="454.76" y="12.6" text-anchor="middle" font-size="7.3">1181</text><line x1="476.5" y1="136.8" x2="476.5" y2="139.60000000000002" stroke="#1a1a1a" stroke-width="1"/><text x="480.82" y="145.3" text-anchor="end" font-size="7.7" transform="rotate(-45 480.82 145.3)">MCL</text><text x="476.92" y="12.6" text-anchor="middle" font-size="7.3">1438</text><line x1="499.5" y1="136.8" x2="499.5" y2="139.60000000000002" stroke="#1a1a1a" stroke-width="1"/><text x="502.97999999999996" y="145.3" text-anchor="end" font-size="7.7" transform="rotate(-45 502.97999999999996 145.3)">MZL</text><text x="499.08" y="12.6" text-anchor="middle" font-size="7.3">3815</text><text x="499.08" y="20.7" text-anchor="middle" font-size="6.5" font-weight="bold" fill="#222">***</text><text x="509.4" y="128.6" text-anchor="end" font-size="7.7" font-weight="bold">CD22</text></g>
<g><line x1="47.5" y1="294.2" x2="47.5" y2="313.9" stroke="#454545" stroke-width="1" stroke-dasharray="none"/><path d="M47.7 310.6h0M48.1 302.1h0M45.3 301.1h0M48.7 305.6h0M47.1 311.8h0M48.0 298.4h0M45.9 305.9h0M46.7 303.2h0M48.2 306.1h0M49.3 299.0h0M46.5 297.6h0M48.2 303.2h0M45.9 305.6h0M47.3 299.1h0M48.4 304.1h0M49.9 301.9h0M50.1 301.2h0M49.3 301.9h0M46.6 309.4h0M48.1 313.4h0M47.2 294.2h0M47.2 313.9h0M47.4 272.5h0M48.1 324.5h0" stroke="#d52a45" stroke-width="1.4" stroke-linecap="square" fill="none"/><line x1="69.5" y1="262.9" x2="69.5" y2="314.2" stroke="#454545" stroke-width="1" stroke-dasharray="none"/><path d="M71.4 297.4h0M68.2 293.2h0M68.8 301.7h0M71.5 292.2h0M67.6 289.2h0M69.3 313.6h0M69.9 306.5h0M69.0 305.4h0M68.6 290.9h0M68.7 276.1h0M68.3 296.0h0M68.2 284.5h0M68.0 294.4h0M69.2 308.0h0M69.0 275.4h0M68.7 304.0h0M70.1 268.7h0M69.5 296.0h0M70.1 313.6h0M70.2 307.3h0M71.1 297.8h0M72.2 292.2h0M68.9 293.0h0M68.6 279.5h0M71.1 300.3h0M68.6 293.3h0M71.8 287.6h0M70.5 275.0h0M68.4 297.4h0M69.4 280.1h0M70.0 291.9h0M70.1 264.8h0M68.8 287.8h0M70.9 287.2h0M70.6 284.3h0M69.3 303.4h0M70.1 264.3h0M71.0 276.2h0M70.1 300.3h0M67.4 289.6h0M69.4 262.9h0M69.7 314.2h0M68.4 270.3h0M69.8 272.0h0M70.6 270.6h0M70.9 270.5h0" stroke="#1e5a96" stroke-width="1.4" stroke-linecap="square" fill="none"/><line x1="92.5" y1="265.1" x2="92.5" y2="313.9" stroke="#454545" stroke-width="1" stroke-dasharray="none"/><path d="M91.7 279.9h0M90.8 276.7h0M91.0 270.5h0M92.6 268.6h0M89.8 293.3h0M92.3 279.6h0M89.5 291.4h0M92.2 279.8h0M91.1 268.3h0M90.9 276.9h0M92.1 287.5h0M92.9 277.2h0M93.1 283.7h0M91.3 274.6h0M91.9 280.2h0M93.1 279.4h0M91.9 266.5h0M93.1 287.5h0M92.0 270.8h0M91.8 276.4h0M91.7 268.4h0M90.3 299.7h0M92.2 301.4h0M91.3 308.6h0M90.1 295.5h0M90.4 292.3h0M90.8 276.5h0M93.0 290.4h0M89.0 290.9h0M91.8 293.6h0M92.0 295.5h0M93.9 294.6h0M91.7 308.6h0M92.6 290.1h0M89.2 290.3h0M91.9 265.1h0M91.6 313.9h0M91.7 241.6h0M92.2 254.8h0M92.1 260.0h0" stroke="#33b24b" stroke-width="1.4" stroke-linecap="square" fill="none"/><line x1="114.5" y1="234.6" x2="114.5" y2="301.3" stroke="#454545" stroke-width="1" stroke-dasharray="none"/><path d="M110.0 253.0h0M114.3 257.8h0M119.3 266.7h0M110.9 270.4h0M112.2 259.1h0M109.7 259.6h0M111.8 255.0h0M111.3 276.9h0M114.5 262.8h0M109.6 264.8h0M113.1 270.4h0M116.4 284.4h0M108.5 269.6h0M110.4 264.0h0M113.8 285.1h0M115.1 281.1h0M116.5 261.5h0M116.0 287.7h0M114.4 241.8h0M110.3 267.2h0M110.5 275.8h0M116.2 270.7h0M116.2 257.9h0M121.4 266.2h0M119.8 258.7h0M117.7 266.9h0M111.6 279.1h0M107.3 261.2h0M112.9 261.7h0M118.5 273.4h0M113.6 252.2h0M117.3 264.0h0M114.9 282.7h0M113.3 298.9h0M118.9 261.3h0M114.5 285.5h0M116.6 256.7h0M108.3 264.2h0M110.6 261.6h0M107.3 264.4h0M111.5 265.8h0M113.9 258.9h0M108.4 263.3h0M115.8 276.2h0M113.0 277.6h0M114.3 238.2h0M115.1 244.9h0M118.6 266.9h0M111.1 255.5h0M112.4 280.3h0M114.6 278.9h0M114.6 247.5h0M112.1 276.9h0M116.6 256.7h0M112.7 282.9h0M115.1 276.2h0M116.4 260.5h0M118.3 261.7h0M114.9 296.9h0M110.7 251.7h0M114.4 263.7h0M114.0 285.7h0M114.4 257.3h0M117.2 271.9h0M113.8 239.3h0M111.8 253.4h0M116.3 252.0h0M115.5 238.4h0M115.8 258.2h0M113.6 265.6h0M118.5 263.5h0M112.4 263.3h0M112.9 298.9h0M107.7 265.7h0M114.3 245.5h0M118.3 262.3h0M109.9 262.9h0M117.7 261.3h0M119.5 270.8h0M116.7 258.1h0M121.3 262.1h0M113.6 288.9h0M119.9 258.0h0M113.6 291.6h0M109.9 268.5h0M114.5 284.6h0M114.6 285.5h0M119.0 268.3h0M112.5 259.7h0M109.6 263.1h0M117.7 254.3h0M115.2 239.5h0M116.4 278.6h0M118.6 269.1h0M112.2 270.6h0M116.0 246.0h0M114.8 236.9h0M120.6 264.7h0M118.0 260.1h0M111.7 266.7h0M107.6 260.3h0M106.7 263.5h0M113.0 258.1h0M116.0 268.0h0M115.1 241.6h0M110.1 272.9h0M114.0 271.7h0M111.6 275.4h0M121.0 265.6h0M113.5 274.0h0M114.5 263.2h0M110.4 268.7h0M120.0 266.7h0M116.9 259.5h0M111.7 260.7h0M114.2 256.4h0M117.2 272.6h0M116.9 272.4h0M113.2 238.9h0M119.7 268.1h0M119.0 271.5h0M117.0 254.4h0M110.8 267.3h0M109.3 270.7h0M116.6 257.3h0M114.4 261.3h0M113.0 288.2h0M115.7 278.4h0M116.4 246.3h0M114.0 297.6h0M115.1 239.2h0M115.8 258.2h0M112.4 249.9h0M115.6 259.0h0M107.8 261.8h0M110.6 257.3h0M114.1 235.8h0M108.8 265.8h0M116.9 281.4h0M112.3 258.8h0M120.0 262.6h0M115.3 245.6h0M113.8 290.1h0M115.9 256.3h0M112.0 265.8h0M115.9 273.3h0M113.1 272.4h0M115.3 241.8h0M113.9 256.2h0M113.5 242.1h0M113.9 274.6h0M116.9 255.0h0M112.4 259.4h0M111.7 267.5h0M110.2 252.7h0M112.0 248.1h0M117.6 261.2h0M114.3 294.3h0M113.9 238.8h0M113.6 284.2h0M114.9 292.8h0M106.4 264.6h0M114.7 236.1h0M109.0 262.5h0M113.8 300.0h0M111.0 259.3h0M109.1 266.2h0M110.9 251.1h0M113.1 264.5h0M118.7 270.4h0M119.9 259.3h0M110.4 272.6h0M110.1 252.7h0M108.7 271.6h0M114.8 253.3h0M114.5 291.3h0M120.0 261.1h0M117.0 281.8h0M112.5 250.3h0M114.1 245.1h0M121.5 265.1h0M114.7 250.2h0M119.5 269.9h0M112.5 286.4h0M113.9 244.1h0M115.3 251.3h0M117.4 267.5h0M112.3 267.5h0M117.3 255.9h0M113.7 244.7h0M118.3 263.0h0M111.3 279.9h0M111.4 278.0h0M118.8 261.4h0M107.7 266.5h0M113.5 264.6h0M113.0 277.6h0M119.3 262.8h0M114.2 247.0h0M114.1 238.1h0M114.4 234.6h0M113.9 301.3h0M114.6 228.2h0" stroke="#5b1b72" stroke-width="1.4" stroke-linecap="square" fill="none"/><line x1="136.5" y1="246.2" x2="136.5" y2="331.3" stroke="#454545" stroke-width="1" stroke-dasharray="none"/><path d="M141.3 307.9h0M140.6 305.2h0M137.5 249.2h0M135.7 297.9h0M136.8 273.0h0M135.8 291.4h0M137.1 285.7h0M143.2 296.7h0M141.5 278.1h0M129.0 299.6h0M138.4 288.0h0M135.0 311.0h0M140.6 305.5h0M134.1 277.1h0M137.4 293.9h0M142.5 295.9h0M138.3 310.6h0M136.0 250.4h0M130.7 278.7h0M139.9 307.1h0M134.2 263.5h0M136.4 255.2h0M139.1 301.7h0M139.7 316.9h0M134.1 309.7h0M138.0 277.2h0M133.0 309.5h0M142.2 300.6h0M130.0 290.9h0M136.3 296.6h0M136.9 301.9h0M136.0 251.1h0M141.7 298.1h0M134.8 282.2h0M139.2 297.8h0M141.6 281.3h0M128.3 292.8h0M135.5 274.9h0M132.8 291.0h0M135.7 312.0h0M142.7 291.7h0M131.7 276.1h0M140.8 292.1h0M139.3 296.8h0M143.9 295.5h0M135.6 265.2h0M140.8 272.8h0M133.7 273.7h0M131.6 302.3h0M145.5 292.4h0M136.2 281.3h0M140.2 304.1h0M136.1 318.7h0M130.5 287.4h0M141.7 306.7h0M139.6 307.1h0M132.1 273.6h0M139.2 300.3h0M144.0 298.8h0M140.5 292.3h0M142.9 296.6h0M138.8 285.3h0M135.7 249.8h0M142.6 299.7h0M141.5 307.0h0M132.8 306.3h0M134.4 286.6h0M132.5 297.8h0M138.6 302.0h0M140.7 298.8h0M133.2 304.7h0M133.2 301.0h0M136.2 319.0h0M134.4 283.1h0M138.1 268.3h0M137.4 266.0h0M134.2 311.3h0M131.3 276.9h0M140.8 310.3h0M130.3 286.6h0M134.6 303.8h0M139.7 271.3h0M135.2 302.5h0M130.3 297.1h0M135.4 322.0h0M132.1 302.2h0M143.7 291.8h0M133.6 277.5h0M134.9 279.4h0M139.2 277.8h0M133.1 308.4h0M137.7 303.6h0M138.6 258.7h0M134.3 306.6h0M137.7 273.9h0M131.0 296.0h0M142.3 285.8h0M135.3 330.1h0M134.9 277.9h0M138.8 314.0h0M142.6 303.6h0M133.2 278.6h0M136.6 321.0h0M131.8 295.7h0M132.5 282.7h0M134.4 254.2h0M133.7 281.1h0M136.2 281.0h0M142.8 297.5h0M137.0 276.6h0M139.2 291.9h0M141.6 286.8h0M131.5 284.7h0M135.0 302.7h0M140.7 303.0h0M130.8 294.5h0M136.3 310.5h0M138.9 290.6h0M132.6 275.1h0M134.0 281.0h0M137.8 282.0h0M137.9 272.5h0M136.8 316.2h0M136.7 261.6h0M142.6 283.2h0M138.4 295.7h0M138.5 325.7h0M134.4 259.8h0M144.0 294.3h0M136.6 311.1h0M135.6 252.2h0M132.0 274.8h0M130.3 299.3h0M143.1 288.1h0M134.8 265.0h0M134.0 313.3h0M136.6 324.9h0M139.9 296.4h0M132.3 303.0h0M139.0 269.1h0M132.4 301.5h0M136.4 300.8h0M138.2 268.4h0M133.7 289.8h0M136.6 301.7h0M136.4 303.4h0M135.1 270.6h0M138.5 288.2h0M133.1 278.3h0M134.6 264.7h0M137.7 307.5h0M134.5 312.3h0M139.3 310.6h0M134.7 292.2h0M142.5 289.5h0M137.7 290.4h0M135.6 280.0h0M144.8 294.3h0M136.8 267.4h0M134.9 266.3h0M138.0 278.5h0M139.0 292.9h0M139.0 279.4h0M138.8 317.6h0M133.2 267.3h0M133.1 281.8h0M140.5 285.6h0M128.0 289.5h0M138.8 272.2h0M141.3 293.4h0M136.2 246.2h0M136.7 331.3h0" stroke="#f6961c" stroke-width="1.4" stroke-linecap="square" fill="none"/><line x1="158.5" y1="277.7" x2="158.5" y2="305.6" stroke="#454545" stroke-width="1" stroke-dasharray="none"/><path d="M164.4 289.3h0M161.0 287.0h0M157.3 288.8h0M158.9 284.5h0M159.1 290.7h0M162.4 287.5h0M159.4 285.0h0M155.9 289.0h0M160.2 290.5h0M157.6 289.8h0M157.5 294.4h0M157.6 296.4h0M161.0 285.9h0M157.2 298.1h0M157.7 283.6h0M158.5 288.7h0M156.7 286.2h0M155.8 287.0h0M160.8 284.8h0M154.1 290.9h0M163.2 290.2h0M161.9 290.0h0M158.5 282.0h0M157.6 297.9h0M157.7 289.5h0M160.1 285.5h0M157.6 303.5h0M156.9 297.7h0M154.0 286.6h0M155.8 283.9h0M158.5 283.1h0M158.3 300.6h0M160.7 284.4h0M157.3 298.4h0M161.2 285.4h0M159.1 279.5h0M158.4 290.9h0M155.5 289.9h0M160.1 288.2h0M158.4 300.1h0M158.5 280.9h0M157.6 291.4h0M162.1 290.8h0M158.7 295.7h0M157.8 301.8h0M156.8 294.9h0M160.6 290.1h0M160.1 291.0h0M164.0 288.7h0M160.5 287.5h0M159.1 291.6h0M161.0 295.1h0M161.3 290.7h0M160.1 296.2h0M158.4 299.7h0M161.7 288.0h0M156.2 293.7h0M156.5 293.5h0M157.1 280.6h0M157.8 280.7h0M157.3 288.2h0M156.8 289.9h0M158.2 301.7h0M157.9 304.5h0M157.3 278.4h0M156.2 292.2h0M158.2 304.8h0M162.9 290.2h0M159.5 297.5h0M156.9 295.7h0M158.5 277.7h0M158.2 305.6h0M158.3 261.7h0M158.1 263.2h0M158.7 264.7h0M158.5 266.1h0" stroke="#19785a" stroke-width="1.4" stroke-linecap="square" fill="none"/><line x1="180.5" y1="279.3" x2="180.5" y2="313.5" stroke="#454545" stroke-width="1" stroke-dasharray="none"/><path d="M183.4 302.6h0M184.5 300.0h0M182.5 295.3h0M183.1 303.5h0M182.7 293.9h0M180.9 283.1h0M182.8 290.4h0M180.6 283.9h0M181.6 311.8h0M178.6 303.1h0M180.1 297.4h0M179.8 295.7h0M181.5 285.6h0M180.5 295.5h0M179.3 301.6h0M178.9 299.1h0M179.5 282.5h0M183.1 304.1h0M177.3 302.4h0M177.9 291.6h0M179.9 293.5h0M182.2 304.3h0M183.0 292.0h0M185.0 298.1h0M181.3 281.5h0M179.8 292.3h0M181.1 305.3h0M185.7 297.9h0M184.0 302.2h0M181.1 295.0h0M180.5 303.0h0M183.0 304.2h0M182.7 290.3h0M178.7 306.3h0M179.4 299.3h0M180.8 303.4h0M183.6 292.2h0M180.8 299.4h0M179.3 287.3h0M179.7 312.1h0M185.0 296.2h0M180.3 308.1h0M178.6 298.2h0M180.0 283.9h0M183.9 298.6h0M181.8 286.7h0M181.3 311.4h0M181.3 279.3h0M181.8 288.5h0M182.1 286.2h0M181.8 302.7h0M178.2 299.6h0M181.9 285.2h0M181.7 303.1h0M181.7 305.9h0M180.1 282.7h0M179.3 286.9h0M182.9 291.2h0M181.2 281.8h0M177.7 302.1h0M180.3 279.3h0M180.8 313.5h0M181.0 250.5h0M180.5 259.6h0" stroke="#8a80c9" stroke-width="1.4" stroke-linecap="square" fill="none"/><line x1="202.5" y1="271.3" x2="202.5" y2="311" stroke="#454545" stroke-width="1" stroke-dasharray="none"/><path d="M200.4 298.2h0M202.9 310.4h0M201.0 297.9h0M199.5 300.6h0M203.4 282.5h0M206.4 297.9h0M205.2 296.4h0M202.0 281.6h0M202.0 301.2h0M205.7 297.9h0M204.3 299.4h0M201.6 307.3h0M202.5 297.4h0M202.1 285.6h0M201.9 279.7h0M205.6 303.2h0M202.4 301.2h0M203.7 293.0h0M201.5 310.1h0M205.4 296.3h0M199.3 303.1h0M203.0 291.9h0M201.5 303.6h0M202.9 287.9h0M200.9 298.8h0M202.9 283.2h0M202.1 273.4h0M206.5 302.4h0M202.2 302.3h0M197.7 300.3h0M206.4 303.2h0M203.4 299.7h0M202.6 299.8h0M204.2 300.5h0M202.2 289.0h0M203.3 278.5h0M205.5 302.9h0M203.3 303.4h0M203.5 310.0h0M200.9 300.7h0M199.1 304.8h0M203.7 310.3h0M203.1 280.5h0M201.0 300.0h0M207.0 303.2h0M199.7 306.1h0M201.9 293.6h0M203.2 302.4h0M205.9 299.8h0M201.5 290.0h0M205.0 297.7h0M203.6 294.3h0M203.1 292.5h0M201.3 298.4h0M203.2 285.1h0M200.8 294.3h0M200.0 299.6h0M204.0 290.7h0M204.9 301.1h0M203.6 287.1h0M202.3 271.3h0M202.6 311.0h0M202.6 317.4h0" stroke="#4a5868" stroke-width="1.4" stroke-linecap="square" fill="none"/><line x1="224.5" y1="272.7" x2="224.5" y2="307.6" stroke="#454545" stroke-width="1" stroke-dasharray="none"/><path d="M228.4 287.7h0M223.4 301.9h0M223.4 304.1h0M224.3 276.8h0M223.7 279.0h0M225.2 290.9h0M229.3 298.1h0M223.3 300.0h0M225.6 303.6h0M227.3 305.0h0M221.9 297.2h0M224.9 298.2h0M224.4 284.7h0M222.1 282.1h0M223.4 276.8h0M222.9 278.7h0M221.3 295.7h0M229.5 289.4h0M227.1 306.4h0M230.0 291.7h0M227.0 302.3h0M230.9 295.4h0M226.9 300.0h0M223.8 296.6h0M224.8 278.3h0M221.0 286.7h0M225.6 275.0h0M227.6 295.2h0M230.8 294.6h0M230.7 294.2h0M223.6 274.1h0M220.7 296.5h0M222.0 301.9h0M223.8 294.5h0M222.9 307.5h0M222.2 305.7h0M221.7 287.8h0M229.7 295.7h0M224.4 291.8h0M229.1 300.6h0M224.3 273.3h0M224.5 277.0h0M224.8 304.8h0M226.4 305.6h0M221.8 298.1h0M223.2 307.2h0M227.4 301.5h0M220.2 292.2h0M226.9 303.4h0M225.5 303.6h0M224.9 272.7h0M225.2 307.6h0M225.0 255.7h0M224.5 258.9h0M224.8 266.2h0" stroke="#1fa7e1" stroke-width="1.4" stroke-linecap="square" fill="none"/><rect x="39.5" y="298.5" width="16" height="8.0" fill="#e98a9c" stroke="#262626" stroke-width="1.1"/><line x1="39.5" y1="302.5" x2="55.5" y2="302.5" stroke="#262626" stroke-width="1.1"/><rect x="61.5" y="283.5" width="16" height="13.0" fill="#89a9c7" stroke="#262626" stroke-width="1.1"/><line x1="61.5" y1="290.5" x2="77.5" y2="290.5" stroke="#262626" stroke-width="1.1"/><rect x="84.5" y="284.5" width="16" height="14.0" fill="#a5dba3" stroke="#262626" stroke-width="1.1"/><line x1="84.5" y1="293.5" x2="100.5" y2="293.5" stroke="#262626" stroke-width="1.1"/><rect x="106.5" y="257.5" width="16" height="14.0" fill="#ae93c0" stroke="#262626" stroke-width="1.1"/><line x1="106.5" y1="264.5" x2="122.5" y2="264.5" stroke="#262626" stroke-width="1.1"/><rect x="128.5" y="281.5" width="16" height="23.0" fill="#fcd18b" stroke="#262626" stroke-width="1.1"/><line x1="128.5" y1="294.5" x2="144.5" y2="294.5" stroke="#262626" stroke-width="1.1"/><rect x="150.5" y="286.5" width="16" height="6.0" fill="#7fbfa6" stroke="#262626" stroke-width="1.1"/><line x1="150.5" y1="289.5" x2="166.5" y2="289.5" stroke="#262626" stroke-width="1.1"/><rect x="172.5" y="293.5" width="16" height="8.0" fill="#c9c4ea" stroke="#262626" stroke-width="1.1"/><line x1="172.5" y1="297.5" x2="188.5" y2="297.5" stroke="#262626" stroke-width="1.1"/><rect x="194.5" y="297.5" width="16" height="7.0" fill="#a3a8ad" stroke="#262626" stroke-width="1.1"/><line x1="194.5" y1="300.5" x2="210.5" y2="300.5" stroke="#262626" stroke-width="1.1"/><rect x="216.5" y="287.5" width="16" height="13.0" fill="#95d7f3" stroke="#262626" stroke-width="1.1"/><line x1="216.5" y1="294.5" x2="232.5" y2="294.5" stroke="#262626" stroke-width="1.1"/><path d="M34.4 207.5 V333 H238.75" fill="none" stroke="#1a1a1a" stroke-width="1.3"/><line x1="31.4" y1="233.8" x2="34.4" y2="233.8" stroke="#1a1a1a" stroke-width="1"/><text x="27.9" y="236.5" text-anchor="end" font-size="8" letter-spacing="-0.2">10000</text><line x1="31.4" y1="267.5" x2="34.4" y2="267.5" stroke="#1a1a1a" stroke-width="1"/><text x="27.9" y="270.2" text-anchor="end" font-size="8" letter-spacing="-0.2">1000</text><line x1="31.4" y1="301.3" x2="34.4" y2="301.3" stroke="#1a1a1a" stroke-width="1"/><text x="27.9" y="304.0" text-anchor="end" font-size="8" letter-spacing="-0.2">100</text><line x1="47.5" y1="333" x2="47.5" y2="335.8" stroke="#1a1a1a" stroke-width="1"/><text x="50.6" y="341.5" text-anchor="end" font-size="7.7" transform="rotate(-45 50.6 341.5)">BL</text><text x="47.7" y="210.5" text-anchor="middle" font-size="7.3">92</text><text x="47.7" y="219.6" text-anchor="middle" font-size="7.4" font-style="italic" font-weight="bold" fill="#222">#</text><line x1="69.5" y1="333" x2="69.5" y2="335.8" stroke="#1a1a1a" stroke-width="1"/><text x="72.75" y="341.5" text-anchor="end" font-size="7.7" transform="rotate(-45 72.75 341.5)">CD10<tspan font-size="5.5" dy="-2.8">−</tspan><tspan dy="2.8"> DLBCL</tspan></text><text x="69.85" y="210.5" text-anchor="middle" font-size="7.3">215</text><text x="69.85" y="219.1" text-anchor="middle" font-size="6.5" font-weight="bold" fill="#222">**</text><line x1="92.5" y1="333" x2="92.5" y2="335.8" stroke="#1a1a1a" stroke-width="1"/><text x="94.9" y="341.5" text-anchor="end" font-size="7.7" transform="rotate(-45 94.9 341.5)">CD10<tspan font-size="5.5" dy="-2.8">+</tspan><tspan dy="2.8"> DLBCL</tspan></text><text x="92.0" y="210.5" text-anchor="middle" font-size="7.3">174</text><text x="92.0" y="219.1" text-anchor="middle" font-size="6.5" font-weight="bold" fill="#222">*</text><line x1="114.5" y1="333" x2="114.5" y2="335.8" stroke="#1a1a1a" stroke-width="1"/><text x="117.05000000000001" y="341.5" text-anchor="end" font-size="7.7" transform="rotate(-45 117.05000000000001 341.5)">CLL</text><text x="114.15" y="210.5" text-anchor="middle" font-size="7.3">1230</text><text x="114.15" y="219.1" text-anchor="middle" font-size="6.5" font-weight="bold" fill="#222">***</text><line x1="136.5" y1="333" x2="136.5" y2="335.8" stroke="#1a1a1a" stroke-width="1"/><text x="139.20000000000002" y="341.5" text-anchor="end" font-size="7.7" transform="rotate(-45 139.20000000000002 341.5)">FL</text><text x="136.3" y="210.5" text-anchor="middle" font-size="7.3">160</text><text x="136.3" y="219.1" text-anchor="middle" font-size="6.5" font-weight="bold" fill="#222">*</text><line x1="158.5" y1="333" x2="158.5" y2="335.8" stroke="#1a1a1a" stroke-width="1"/><text x="161.35" y="341.5" text-anchor="end" font-size="7.7" transform="rotate(-45 161.35 341.5)">HCL</text><text x="158.45" y="210.5" text-anchor="middle" font-size="7.3">210</text><text x="158.45" y="219.1" text-anchor="middle" font-size="6.5" font-weight="bold" fill="#222">**</text><line x1="180.5" y1="333" x2="180.5" y2="335.8" stroke="#1a1a1a" stroke-width="1"/><text x="183.5" y="341.5" text-anchor="end" font-size="7.7" transform="rotate(-45 183.5 341.5)">LPL</text><text x="180.6" y="210.5" text-anchor="middle" font-size="7.3">123</text><line x1="202.5" y1="333" x2="202.5" y2="335.8" stroke="#1a1a1a" stroke-width="1"/><text x="205.65" y="341.5" text-anchor="end" font-size="7.7" transform="rotate(-45 205.65 341.5)">MCL</text><text x="202.75" y="210.5" text-anchor="middle" font-size="7.3">107</text><line x1="224.5" y1="333" x2="224.5" y2="335.8" stroke="#1a1a1a" stroke-width="1"/><text x="227.8" y="341.5" text-anchor="end" font-size="7.7" transform="rotate(-45 227.8 341.5)">MZL</text><text x="224.9" y="210.5" text-anchor="middle" font-size="7.3">160</text><text x="211.6" y="325.1" text-anchor="start" font-size="7.7" font-weight="bold">CD23</text></g>
<g><line x1="321.5" y1="234.4" x2="321.5" y2="283.3" stroke="#454545" stroke-width="1" stroke-dasharray="none"/><path d="M321.5 250.9h0M323.2 255.1h0M322.0 235.2h0M321.5 250.0h0M322.2 235.2h0M321.3 253.2h0M322.3 278.1h0M322.2 246.9h0M321.0 254.8h0M322.9 250.0h0M320.2 258.7h0M322.0 241.2h0M322.1 261.7h0M320.8 262.0h0M321.2 262.4h0M322.6 262.8h0M322.4 280.6h0M320.5 264.0h0M321.5 272.4h0M321.9 240.5h0M322.1 249.4h0M322.1 263.9h0M321.1 272.7h0M323.1 255.8h0M321.2 243.8h0M321.6 250.6h0M321.5 253.0h0M323.0 267.0h0M321.8 282.2h0M320.6 256.8h0M322.2 234.4h0M321.7 283.3h0" stroke="#d52a45" stroke-width="1.4" stroke-linecap="square" fill="none"/><line x1="343.5" y1="237.1" x2="343.5" y2="303.1" stroke="#454545" stroke-width="1" stroke-dasharray="none"/><path d="M342.9 256.5h0M344.7 259.3h0M343.8 248.9h0M343.0 254.3h0M342.8 273.9h0M343.4 255.6h0M345.0 285.3h0M342.0 267.5h0M345.6 272.0h0M346.4 263.9h0M346.8 267.5h0M343.2 293.0h0M342.3 266.5h0M344.5 282.9h0M342.5 255.1h0M343.5 253.4h0M346.3 265.9h0M344.3 248.0h0M345.9 271.0h0M343.3 248.6h0M344.8 255.6h0M345.9 267.5h0M342.6 258.1h0M342.8 270.2h0M345.0 269.8h0M344.8 265.6h0M343.2 245.9h0M344.2 260.6h0M343.1 243.1h0M344.5 298.7h0M345.0 279.2h0M342.0 263.6h0M344.1 260.0h0M344.8 283.7h0M342.3 273.7h0M343.3 274.8h0M343.9 292.0h0M344.0 262.2h0M344.8 274.4h0M344.1 288.6h0M343.8 237.1h0M343.7 303.1h0" stroke="#1e5a96" stroke-width="1.4" stroke-linecap="square" fill="none"/><line x1="366.5" y1="225.4" x2="366.5" y2="286.9" stroke="#454545" stroke-width="1" stroke-dasharray="none"/><path d="M364.2 263.5h0M365.3 284.7h0M366.3 269.8h0M368.5 259.6h0M366.5 233.9h0M367.3 275.2h0M365.7 226.1h0M367.1 246.3h0M368.5 257.8h0M365.3 248.0h0M365.6 274.6h0M365.8 232.9h0M366.4 266.9h0M367.5 267.9h0M366.9 246.2h0M363.9 259.0h0M365.2 260.5h0M364.1 252.9h0M365.9 270.0h0M365.4 262.5h0M366.9 276.8h0M365.8 233.0h0M368.3 251.4h0M364.7 261.9h0M364.8 242.2h0M366.3 240.5h0M366.6 237.2h0M365.3 248.4h0M366.7 254.1h0M367.0 278.3h0M364.9 267.9h0M367.7 270.8h0M365.9 225.8h0M364.2 262.2h0M364.6 252.5h0M366.6 225.4h0M366.2 286.9h0M366.4 310.0h0M365.7 321.1h0" stroke="#33b24b" stroke-width="1.4" stroke-linecap="square" fill="none"/><line x1="388.5" y1="240.7" x2="388.5" y2="270.3" stroke="#5b1b72" stroke-width="1" stroke-dasharray="1.5 1.5"/><path d="M388.3 240.7h0M388.5 270.3h0M392.6 245.2h0M384.7 242.7h0M392.8 243.4h0M392.4 242.1h0M384.0 245.3h0M386.2 243.5h0M387.0 243.6h0M392.2 245.3h0M391.7 242.2h0M391.2 241.1h0M387.5 245.2h0M386.1 242.7h0M389.0 242.1h0M390.2 243.9h0M384.6 245.1h0M384.4 244.1h0M384.3 245.9h0M377.3 248.5h0M396.1 246.9h0M395.9 248.4h0M399.4 247.1h0M382.4 247.1h0M400.8 247.7h0M392.7 248.0h0M385.9 247.2h0M397.3 246.1h0M397.6 245.6h0M389.2 247.2h0M379.1 248.3h0M386.7 246.1h0M386.0 247.3h0M386.4 245.5h0M377.7 247.6h0M378.7 246.3h0M396.3 248.1h0M398.2 246.0h0M375.4 247.8h0M390.9 246.6h0M375.8 246.8h0M381.4 247.3h0M400.8 246.1h0M377.2 247.6h0M378.1 246.2h0M386.7 248.5h0M383.7 246.4h0M387.6 246.0h0M385.7 247.6h0M383.7 247.9h0M380.1 245.8h0M391.6 246.9h0M399.2 245.8h0M394.7 247.5h0M384.9 245.9h0M391.2 247.8h0M387.5 252.3h0M393.3 253.5h0M386.2 249.7h0M387.3 252.9h0M399.0 257.0h0M389.8 251.0h0M380.8 253.7h0M394.7 250.2h0M393.4 257.0h0M385.4 256.4h0M386.6 253.9h0M398.2 249.8h0M384.1 256.9h0M376.5 250.8h0M387.6 254.7h0M391.8 256.4h0M392.9 248.0h0M376.7 248.3h0M386.4 248.2h0M389.0 253.7h0M380.2 255.7h0M385.9 256.6h0M384.4 253.6h0M389.4 250.4h0M395.8 248.0h0M381.5 250.9h0M398.6 252.5h0M375.8 250.7h0M391.2 255.3h0M377.7 255.0h0M386.4 258.6h0M386.9 258.3h0M396.6 259.8h0M395.4 259.2h0M391.7 257.4h0M380.4 259.5h0M391.2 258.9h0M385.1 257.8h0M395.4 258.6h0M380.1 258.0h0M385.7 257.2h0M396.4 259.7h0M393.6 257.0h0M386.9 257.3h0M392.1 259.4h0M393.2 259.4h0M381.8 257.0h0M381.4 259.5h0M393.9 258.5h0M383.8 259.6h0M381.8 258.0h0M379.8 259.9h0M386.8 259.3h0M393.4 258.7h0M396.6 259.3h0M395.5 259.9h0M381.2 259.3h0M383.6 258.0h0M386.7 264.0h0M383.9 261.7h0M384.6 264.0h0M388.2 262.8h0M388.5 263.1h0M386.6 261.7h0M390.7 262.8h0M392.2 261.2h0M391.8 262.9h0M389.0 261.6h0M389.0 260.3h0M384.3 261.2h0M384.5 260.2h0M390.4 262.9h0M389.4 260.8h0M390.5 263.3h0M388.8 265.4h0M388.6 266.4h0M387.3 264.9h0M389.9 267.8h0M390.2 265.0h0M387.2 267.1h0M386.3 265.8h0M388.5 266.9h0" stroke="#5b1b72" stroke-width="1.4" stroke-linecap="square" fill="none"/><line x1="410.5" y1="238" x2="410.5" y2="304.5" stroke="#454545" stroke-width="1" stroke-dasharray="none"/><path d="M411.2 284.0h0M419.1 271.3h0M405.8 268.9h0M410.3 270.9h0M409.2 255.2h0M406.7 265.3h0M408.1 262.4h0M411.7 293.7h0M416.5 266.0h0M410.5 272.9h0M412.1 263.6h0M409.3 283.5h0M412.5 239.1h0M415.0 272.3h0M406.6 261.0h0M409.8 293.7h0M412.2 254.3h0M415.4 269.2h0M408.7 247.0h0M414.3 280.6h0M406.9 256.1h0M407.9 269.7h0M405.7 272.5h0M403.3 271.6h0M415.1 272.4h0M408.7 280.8h0M410.9 260.3h0M410.7 289.7h0M408.5 289.2h0M414.7 266.1h0M409.6 279.7h0M409.0 291.5h0M404.1 262.5h0M404.9 275.9h0M409.6 267.5h0M409.2 280.8h0M410.8 239.2h0M408.0 262.7h0M407.4 239.7h0M409.2 251.7h0M415.2 254.2h0M409.5 293.4h0M410.6 301.7h0M409.5 244.1h0M416.2 264.9h0M416.0 258.0h0M413.2 252.0h0M414.6 265.6h0M416.9 272.9h0M415.0 279.3h0M410.4 268.0h0M413.6 248.9h0M410.1 273.4h0M416.6 265.2h0M413.9 283.1h0M416.9 271.9h0M406.8 254.0h0M410.1 279.0h0M410.8 285.8h0M409.8 261.5h0M409.1 300.8h0M410.2 298.9h0M410.7 268.3h0M417.5 264.8h0M405.5 278.6h0M403.2 270.3h0M417.1 263.8h0M410.7 271.7h0M409.9 254.0h0M407.3 286.1h0M408.9 241.5h0M415.2 273.0h0M405.7 272.9h0M412.0 278.6h0M418.9 271.1h0M412.9 239.9h0M412.4 271.4h0M406.2 280.4h0M403.7 272.3h0M408.9 281.2h0M411.4 274.7h0M411.4 259.9h0M411.7 273.8h0M406.7 246.4h0M413.6 253.1h0M406.9 275.6h0M414.5 274.5h0M415.4 265.5h0M404.1 274.9h0M409.6 276.5h0M414.3 262.3h0M405.7 272.7h0M411.1 251.0h0M410.3 302.8h0M415.6 258.9h0M406.4 262.6h0M415.4 279.4h0M414.0 270.7h0M405.2 280.0h0M406.0 282.9h0M410.6 298.2h0M414.1 285.0h0M408.0 292.0h0M405.6 276.5h0M402.6 271.4h0M414.0 283.4h0M406.0 276.3h0M405.0 258.9h0M411.4 300.8h0M410.7 295.8h0M413.9 269.6h0M410.6 303.4h0M412.7 263.4h0M409.3 264.9h0M410.2 267.9h0M417.3 265.0h0M404.6 275.9h0M407.5 290.1h0M412.4 279.6h0M407.4 247.6h0M410.6 281.8h0M411.1 261.7h0M404.5 261.4h0M407.4 284.6h0M411.4 238.8h0M415.3 275.2h0M409.1 294.3h0M416.8 269.7h0M414.5 255.6h0M412.9 261.8h0M406.4 265.3h0M406.0 256.9h0M415.6 257.4h0M416.7 264.9h0M412.3 294.2h0M411.0 301.2h0M410.7 252.6h0M403.6 276.3h0M406.7 284.7h0M409.8 297.8h0M410.4 238.0h0M410.9 304.5h0M410.1 314.5h0" stroke="#f6961c" stroke-width="1.4" stroke-linecap="square" fill="none"/><line x1="432.5" y1="252.5" x2="432.5" y2="293" stroke="#454545" stroke-width="1" stroke-dasharray="none"/><path d="M434.0 267.4h0M435.9 283.3h0M434.5 286.8h0M431.1 291.0h0M434.5 265.7h0M430.9 275.6h0M431.9 291.0h0M433.4 286.4h0M432.5 268.2h0M432.6 258.4h0M436.8 275.6h0M430.1 288.3h0M432.0 273.0h0M431.9 270.4h0M433.0 274.8h0M434.3 276.8h0M432.1 281.0h0M430.7 274.1h0M431.7 263.0h0M429.8 283.7h0M431.5 258.4h0M431.2 279.3h0M430.0 273.2h0M433.2 280.1h0M433.7 285.3h0M432.3 290.5h0M435.2 267.3h0M435.2 277.5h0M432.7 271.3h0M431.2 261.0h0M436.9 274.8h0M432.3 289.1h0M431.3 267.7h0M433.0 287.7h0M431.3 267.0h0M432.9 265.0h0M432.6 255.7h0M429.9 279.3h0M430.9 285.0h0M434.6 275.4h0M435.5 269.4h0M432.6 283.5h0M433.0 288.3h0M431.1 264.0h0M433.4 282.6h0M432.7 252.5h0M432.3 293.0h0M432.1 312.0h0" stroke="#19785a" stroke-width="1.4" stroke-linecap="square" fill="none"/><line x1="454.5" y1="249.5" x2="454.5" y2="296.3" stroke="#454545" stroke-width="1" stroke-dasharray="none"/><path d="M451.2 257.9h0M455.9 257.2h0M454.9 280.6h0M454.7 294.3h0M453.7 263.8h0M452.6 276.7h0M455.5 254.5h0M456.6 270.9h0M455.8 289.5h0M455.9 290.6h0M455.5 250.3h0M448.6 266.7h0M457.8 264.8h0M455.1 257.1h0M454.5 276.6h0M457.1 267.9h0M453.6 276.7h0M455.0 253.8h0M457.6 269.0h0M454.9 262.2h0M458.5 262.7h0M454.6 263.7h0M454.7 255.3h0M454.1 294.5h0M449.9 269.4h0M457.2 256.7h0M454.9 263.1h0M459.2 263.8h0M452.0 257.1h0M455.4 267.5h0M457.6 279.0h0M457.1 264.2h0M452.8 260.9h0M456.6 277.2h0M453.9 256.6h0M452.7 280.9h0M458.3 262.5h0M458.1 265.9h0M452.2 284.7h0M449.4 266.2h0M454.7 252.7h0M459.5 268.8h0M452.2 276.2h0M456.0 264.1h0M457.2 277.6h0M454.8 289.1h0M454.2 254.3h0M452.4 268.3h0M455.1 256.2h0M454.6 259.8h0M452.8 259.1h0M451.8 264.0h0M455.3 270.5h0M455.2 293.2h0M454.7 273.8h0M458.7 267.3h0M456.8 253.7h0M455.6 249.9h0M456.9 287.9h0M455.7 283.9h0M454.7 249.5h0M454.8 296.3h0M454.8 306.3h0M454.5 328.0h0" stroke="#8a80c9" stroke-width="1.4" stroke-linecap="square" fill="none"/><line x1="476.5" y1="240.5" x2="476.5" y2="277.5" stroke="#454545" stroke-width="1" stroke-dasharray="none"/><path d="M478.5 271.7h0M477.5 264.7h0M480.7 253.9h0M471.9 257.8h0M474.6 271.0h0M476.7 241.2h0M478.2 265.4h0M476.5 240.7h0M475.7 271.0h0M479.1 259.7h0M472.6 260.0h0M478.2 266.3h0M476.4 245.2h0M474.1 259.0h0M476.3 257.2h0M475.4 273.4h0M477.3 261.3h0M481.0 262.4h0M476.2 275.8h0M479.2 251.1h0M479.5 264.6h0M479.4 262.6h0M476.7 258.2h0M476.1 263.0h0M479.5 266.5h0M475.1 250.7h0M478.9 271.9h0M480.2 253.8h0M474.1 257.1h0M476.7 255.7h0M475.1 256.7h0M475.7 245.0h0M480.5 257.9h0M479.9 261.1h0M477.9 242.2h0M477.9 274.4h0M477.3 244.0h0M478.2 265.1h0M473.6 258.1h0M477.6 269.4h0M478.1 273.3h0M478.9 264.3h0M474.8 253.1h0M480.7 259.8h0M477.5 253.2h0M478.3 253.2h0M477.7 273.0h0M475.9 250.1h0M481.7 255.4h0M479.2 250.2h0M480.6 263.8h0M476.2 273.9h0M476.5 270.3h0M478.9 249.6h0M475.5 259.5h0M476.3 247.9h0M472.7 258.1h0M478.8 255.8h0M477.6 241.4h0M474.7 261.0h0M473.8 265.5h0M481.9 256.2h0M473.3 262.4h0M477.9 274.4h0M474.6 249.4h0M473.5 256.2h0M481.4 260.9h0M476.5 245.7h0M477.1 248.1h0M472.2 257.2h0M477.1 240.5h0M476.9 277.5h0M477.2 283.0h0M476.6 287.0h0M476.7 290.5h0M476.6 294.3h0" stroke="#4a5868" stroke-width="1.4" stroke-linecap="square" fill="none"/><line x1="499.5" y1="234.5" x2="499.5" y2="298.8" stroke="#454545" stroke-width="1" stroke-dasharray="none"/><path d="M500.1 263.9h0M498.0 264.5h0M498.4 283.8h0M499.7 275.7h0M499.9 288.4h0M500.1 281.8h0M499.1 290.1h0M498.8 269.7h0M497.7 259.8h0M500.0 282.5h0M499.2 263.2h0M497.9 270.4h0M498.7 281.9h0M498.7 271.2h0M499.2 289.0h0M498.2 278.9h0M499.7 279.9h0M499.9 251.8h0M500.4 262.4h0M499.2 274.7h0M499.9 261.4h0M500.0 251.2h0M499.9 291.9h0M498.2 247.9h0M500.1 261.4h0M497.9 246.6h0M500.5 258.7h0M499.2 253.8h0M499.9 259.0h0M498.7 252.0h0M497.2 257.9h0M498.4 290.9h0M498.4 279.2h0M499.3 270.1h0M501.4 261.5h0M499.7 288.8h0M498.4 244.3h0M497.7 257.7h0M500.9 260.9h0M499.8 295.6h0M499.2 234.5h0M499.4 298.8h0" stroke="#1fa7e1" stroke-width="1.4" stroke-linecap="square" fill="none"/><rect x="313.5" y="252.5" width="16" height="16.0" fill="#e98a9c" stroke="#262626" stroke-width="1.1"/><line x1="313.5" y1="260.5" x2="329.5" y2="260.5" stroke="#262626" stroke-width="1.1"/><rect x="335.5" y="257.5" width="16" height="21.0" fill="#89a9c7" stroke="#262626" stroke-width="1.1"/><line x1="335.5" y1="268.5" x2="351.5" y2="268.5" stroke="#262626" stroke-width="1.1"/><rect x="358.5" y="247.5" width="16" height="21.0" fill="#a5dba3" stroke="#262626" stroke-width="1.1"/><line x1="358.5" y1="258.5" x2="374.5" y2="258.5" stroke="#262626" stroke-width="1.1"/><rect x="380.5" y="248.5" width="16" height="9.0" fill="#ae93c0" stroke="#262626" stroke-width="1.1"/><line x1="380.5" y1="252.5" x2="396.5" y2="252.5" stroke="#262626" stroke-width="1.1"/><rect x="402.5" y="257.5" width="16" height="23.0" fill="#fcd18b" stroke="#262626" stroke-width="1.1"/><line x1="402.5" y1="271.5" x2="418.5" y2="271.5" stroke="#262626" stroke-width="1.1"/><rect x="424.5" y="268.5" width="16" height="17.0" fill="#7fbfa6" stroke="#262626" stroke-width="1.1"/><line x1="424.5" y1="276.5" x2="440.5" y2="276.5" stroke="#262626" stroke-width="1.1"/><rect x="446.5" y="259.5" width="16" height="16.0" fill="#c9c4ea" stroke="#262626" stroke-width="1.1"/><line x1="446.5" y1="266.5" x2="462.5" y2="266.5" stroke="#262626" stroke-width="1.1"/><rect x="468.5" y="253.5" width="16" height="11.0" fill="#a3a8ad" stroke="#262626" stroke-width="1.1"/><line x1="468.5" y1="257.5" x2="484.5" y2="257.5" stroke="#262626" stroke-width="1.1"/><rect x="491.5" y="251.5" width="16" height="23.0" fill="#95d7f3" stroke="#262626" stroke-width="1.1"/><line x1="491.5" y1="260.5" x2="507.5" y2="260.5" stroke="#262626" stroke-width="1.1"/><path d="M308.7 207.3 V333.2 H512.5" fill="none" stroke="#1a1a1a" stroke-width="1.3"/><line x1="305.7" y1="236.1" x2="308.7" y2="236.1" stroke="#1a1a1a" stroke-width="1"/><text x="302.2" y="238.79999999999998" text-anchor="end" font-size="8" letter-spacing="-0.2">10000</text><line x1="305.7" y1="258.6" x2="308.7" y2="258.6" stroke="#1a1a1a" stroke-width="1"/><text x="302.2" y="261.3" text-anchor="end" font-size="8" letter-spacing="-0.2">1000</text><line x1="305.7" y1="280.8" x2="308.7" y2="280.8" stroke="#1a1a1a" stroke-width="1"/><text x="302.2" y="283.5" text-anchor="end" font-size="8" letter-spacing="-0.2">100</text><line x1="305.7" y1="303.5" x2="308.7" y2="303.5" stroke="#1a1a1a" stroke-width="1"/><text x="302.2" y="306.2" text-anchor="end" font-size="8" letter-spacing="-0.2">10</text><line x1="305.7" y1="325.8" x2="308.7" y2="325.8" stroke="#1a1a1a" stroke-width="1"/><text x="302.2" y="328.5" text-anchor="end" font-size="8" letter-spacing="-0.2">1</text><line x1="321.5" y1="333.2" x2="321.5" y2="336.0" stroke="#1a1a1a" stroke-width="1"/><text x="325.7" y="341.7" text-anchor="end" font-size="7.7" transform="rotate(-45 325.7 341.7)">BL</text><text x="321.8" y="210.4" text-anchor="middle" font-size="7.3">747</text><text x="321.8" y="219.0" text-anchor="middle" font-size="6.5" font-weight="bold" fill="#222">**</text><line x1="343.5" y1="333.2" x2="343.5" y2="336.0" stroke="#1a1a1a" stroke-width="1"/><text x="347.85999999999996" y="341.7" text-anchor="end" font-size="7.7" transform="rotate(-45 347.85999999999996 341.7)">CD10<tspan font-size="5.5" dy="-2.8">−</tspan><tspan dy="2.8"> DLBCL</tspan></text><text x="343.96" y="210.4" text-anchor="middle" font-size="7.3">329</text><line x1="366.5" y1="333.2" x2="366.5" y2="336.0" stroke="#1a1a1a" stroke-width="1"/><text x="370.02" y="341.7" text-anchor="end" font-size="7.7" transform="rotate(-45 370.02 341.7)">CD10<tspan font-size="5.5" dy="-2.8">+</tspan><tspan dy="2.8"> DLBCL</tspan></text><text x="366.12" y="210.4" text-anchor="middle" font-size="7.3">791</text><text x="366.12" y="219.0" text-anchor="middle" font-size="6.5" font-weight="bold" fill="#222">***</text><line x1="388.5" y1="333.2" x2="388.5" y2="336.0" stroke="#1a1a1a" stroke-width="1"/><text x="392.17999999999995" y="341.7" text-anchor="end" font-size="7.7" transform="rotate(-45 392.17999999999995 341.7)">CLL</text><text x="388.28" y="210.4" text-anchor="middle" font-size="7.3">1910</text><text x="388.28" y="219.0" text-anchor="middle" font-size="6.5" font-weight="bold" fill="#222">***</text><line x1="410.5" y1="333.2" x2="410.5" y2="336.0" stroke="#1a1a1a" stroke-width="1"/><text x="414.34" y="341.7" text-anchor="end" font-size="7.7" transform="rotate(-45 414.34 341.7)">FL</text><text x="410.44" y="210.4" text-anchor="middle" font-size="7.3">258</text><line x1="432.5" y1="333.2" x2="432.5" y2="336.0" stroke="#1a1a1a" stroke-width="1"/><text x="436.5" y="341.7" text-anchor="end" font-size="7.7" transform="rotate(-45 436.5 341.7)">HCL</text><text x="432.6" y="210.4" text-anchor="middle" font-size="7.3">108</text><text x="432.6" y="219.5" text-anchor="middle" font-size="7.4" font-style="italic" font-weight="bold" fill="#222">#</text><line x1="454.5" y1="333.2" x2="454.5" y2="336.0" stroke="#1a1a1a" stroke-width="1"/><text x="458.65999999999997" y="341.7" text-anchor="end" font-size="7.7" transform="rotate(-45 458.65999999999997 341.7)">LPL</text><text x="454.76" y="210.4" text-anchor="middle" font-size="7.3">443</text><line x1="476.5" y1="333.2" x2="476.5" y2="336.0" stroke="#1a1a1a" stroke-width="1"/><text x="480.82" y="341.7" text-anchor="end" font-size="7.7" transform="rotate(-45 480.82 341.7)">MCL</text><text x="476.92" y="210.4" text-anchor="middle" font-size="7.3">1105</text><text x="476.92" y="219.0" text-anchor="middle" font-size="6.5" font-weight="bold" fill="#222">***</text><line x1="499.5" y1="333.2" x2="499.5" y2="336.0" stroke="#1a1a1a" stroke-width="1"/><text x="502.97999999999996" y="341.7" text-anchor="end" font-size="7.7" transform="rotate(-45 502.97999999999996 341.7)">MZL</text><text x="499.08" y="210.4" text-anchor="middle" font-size="7.3">758</text><text x="499.08" y="219.0" text-anchor="middle" font-size="6.5" font-weight="bold" fill="#222">**</text><text x="507.2" y="328.8" text-anchor="end" font-size="7.7" font-weight="bold">CD27</text></g>
<g><line x1="47.5" y1="479.2" x2="47.5" y2="504.3" stroke="#454545" stroke-width="1" stroke-dasharray="none"/><path d="M47.3 483.2h0M47.3 502.2h0M48.0 492.3h0M48.5 488.0h0M48.3 499.8h0M47.6 489.3h0M47.6 481.1h0M47.5 501.8h0M47.6 500.4h0M47.2 493.4h0M47.5 487.2h0M48.7 494.7h0M47.2 497.5h0M48.2 485.4h0M47.0 497.2h0M49.0 490.7h0M46.8 489.1h0M48.0 490.5h0M47.8 486.2h0M47.3 491.6h0M48.0 483.5h0M48.3 488.6h0M47.2 484.8h0M47.7 495.3h0M47.7 498.1h0M47.1 501.2h0M49.1 491.2h0M48.1 485.9h0M47.2 502.5h0M48.2 487.0h0M47.3 479.2h0M47.9 504.3h0M48.1 457.0h0M48.2 464.8h0M48.0 474.2h0" stroke="#d52a45" stroke-width="1.4" stroke-linecap="square" fill="none"/><line x1="69.5" y1="471.4" x2="69.5" y2="504.3" stroke="#454545" stroke-width="1" stroke-dasharray="none"/><path d="M68.8 487.3h0M70.2 479.4h0M68.5 486.2h0M71.1 493.2h0M68.8 486.5h0M70.5 493.9h0M70.7 481.1h0M68.5 487.4h0M70.1 476.3h0M70.9 495.2h0M71.4 487.7h0M70.4 501.8h0M70.4 495.4h0M70.8 487.9h0M69.3 483.0h0M70.0 500.2h0M69.7 492.7h0M70.4 478.4h0M69.2 494.8h0M70.5 493.9h0M70.1 504.1h0M70.5 496.4h0M69.8 501.4h0M69.9 483.8h0M70.4 488.0h0M70.9 492.2h0M69.3 475.7h0M69.9 490.3h0M70.2 472.6h0M69.9 481.3h0M70.7 496.1h0M71.0 489.3h0M70.2 501.7h0M69.9 492.1h0M70.0 483.3h0M70.4 482.2h0M69.8 483.4h0M69.5 486.2h0M69.7 498.2h0M70.0 484.1h0M69.4 471.4h0M70.3 504.3h0M69.9 460.9h0M69.8 467.7h0M68.0 503.0h0M69.2 503.8h0M68.5 503.5h0M68.9 503.6h0" stroke="#1e5a96" stroke-width="1.4" stroke-linecap="square" fill="none"/><line x1="92.5" y1="452.4" x2="92.5" y2="505.4" stroke="#454545" stroke-width="1" stroke-dasharray="none"/><path d="M92.2 504.1h0M91.9 487.2h0M93.0 496.0h0M90.4 486.9h0M92.0 482.0h0M92.2 472.2h0M92.6 466.7h0M92.1 468.0h0M90.9 488.0h0M92.7 473.2h0M91.7 453.8h0M91.9 459.5h0M92.4 496.9h0M93.1 484.8h0M93.4 489.2h0M92.5 492.9h0M93.1 491.4h0M92.2 452.6h0M91.5 496.2h0M91.2 496.2h0M91.5 482.4h0M92.9 497.7h0M92.6 464.7h0M90.6 496.5h0M94.0 492.3h0M91.1 501.8h0M92.3 501.8h0M92.3 462.0h0M92.0 481.3h0M92.8 495.8h0M93.2 496.3h0M91.6 496.4h0M92.2 492.6h0M92.1 454.5h0M92.4 503.1h0M92.4 459.5h0M92.0 480.5h0M93.3 481.9h0M91.8 467.2h0M91.7 503.8h0M92.2 452.4h0M91.9 505.4h0" stroke="#33b24b" stroke-width="1.4" stroke-linecap="square" fill="none"/><line x1="114.5" y1="449.4" x2="114.5" y2="530.2" stroke="#454545" stroke-width="1" stroke-dasharray="none"/><path d="M114.4 449.4h0M114.1 530.2h0M114.7 457.0h0M113.3 449.4h0M115.7 453.4h0M114.7 455.7h0M115.7 452.3h0M116.1 452.4h0M115.1 455.7h0M113.6 452.6h0M113.1 458.7h0M113.4 461.2h0M110.6 461.9h0M116.5 459.8h0M115.3 458.5h0M116.3 461.4h0M113.2 459.5h0M111.9 458.3h0M117.0 460.2h0M113.7 460.2h0M111.6 457.0h0M113.0 459.9h0M111.6 459.7h0M112.8 458.3h0M116.1 458.8h0M116.1 460.7h0M113.2 457.2h0M116.9 459.8h0M115.3 464.3h0M114.8 465.0h0M107.3 465.2h0M115.8 463.3h0M119.9 465.0h0M115.5 462.0h0M115.9 463.4h0M115.2 464.7h0M109.0 464.8h0M111.5 462.8h0M107.7 462.4h0M110.9 463.7h0M120.3 462.6h0M111.2 463.2h0M116.1 463.2h0M116.5 462.5h0M107.8 463.9h0M117.3 462.4h0M107.8 464.2h0M108.1 465.1h0M116.8 462.5h0M112.9 462.2h0M108.4 463.2h0M119.4 465.0h0M117.7 464.1h0M115.3 463.7h0M116.3 463.6h0M112.7 464.8h0M110.4 481.2h0M117.6 485.7h0M111.2 481.5h0M112.3 479.7h0M111.4 484.3h0M108.2 481.8h0M111.1 506.1h0M118.0 503.9h0M114.0 504.3h0M116.2 506.5h0M110.2 504.5h0M111.4 504.9h0M119.6 507.4h0M118.2 505.2h0M113.6 504.3h0M113.6 507.8h0M108.4 505.2h0M109.9 507.3h0M111.4 505.6h0M107.9 506.6h0M114.3 507.1h0M117.3 506.8h0M110.8 504.6h0M115.5 503.6h0M120.3 506.7h0M114.1 505.1h0M108.2 506.0h0M118.0 503.9h0M108.5 506.6h0M113.7 507.0h0M112.9 507.9h0M119.4 504.9h0M114.7 506.1h0M113.5 507.2h0M117.0 507.2h0M110.7 505.7h0M114.8 506.1h0M107.4 507.1h0M113.7 509.1h0M117.0 511.9h0M116.1 513.2h0M115.1 514.4h0M110.6 510.3h0M111.5 512.5h0M111.9 508.2h0M111.2 509.2h0M114.5 511.2h0M113.9 508.1h0M114.4 509.8h0M110.9 508.4h0M111.4 510.8h0M111.5 511.2h0M111.5 513.1h0M117.2 510.3h0M110.7 514.8h0M110.8 512.5h0" stroke="#5b1b72" stroke-width="1.4" stroke-linecap="square" fill="none"/><line x1="136.5" y1="466" x2="136.5" y2="514.8" stroke="#454545" stroke-width="1" stroke-dasharray="none"/><path d="M136.6 466.0h0M136.3 514.8h0M136.7 528.6h0M135.6 472.5h0M137.1 474.1h0M137.0 469.9h0M136.3 473.6h0M135.6 478.3h0M133.5 477.7h0M134.1 487.1h0M135.2 479.6h0M139.1 484.0h0M135.9 476.4h0M135.5 478.8h0M139.0 480.5h0M139.1 478.5h0M133.6 486.7h0M133.8 485.2h0M136.9 478.7h0M138.3 480.6h0M139.2 482.3h0M139.0 487.1h0M135.6 484.0h0M137.7 483.5h0M133.4 483.9h0M137.9 477.5h0M133.9 475.9h0M136.6 476.4h0M138.4 480.4h0M141.8 493.9h0M135.5 489.5h0M135.5 492.9h0M140.3 495.2h0M134.4 488.2h0M138.1 493.6h0M137.9 494.5h0M139.7 493.1h0M139.8 489.0h0M141.2 493.4h0M131.8 489.4h0M137.9 490.5h0M141.1 490.3h0M136.1 492.1h0M141.1 490.5h0M140.6 493.9h0M137.1 495.7h0M140.5 494.1h0M136.8 488.4h0M133.2 493.3h0M132.1 493.2h0M134.6 491.1h0M139.9 494.8h0M139.0 491.6h0M136.7 496.0h0M141.0 492.9h0M131.7 495.3h0M131.3 488.9h0M138.0 489.6h0M139.1 493.6h0M132.6 495.4h0M141.8 493.3h0M141.6 494.5h0M136.0 494.7h0M141.1 493.6h0M131.7 491.0h0M138.5 491.0h0M132.6 491.7h0M125.5 500.3h0M124.3 502.5h0M127.7 504.4h0M124.5 501.7h0M140.6 497.8h0M140.1 500.9h0M139.8 497.7h0M135.6 503.5h0M139.8 498.2h0M131.3 503.9h0M122.9 500.3h0M136.7 499.9h0M121.4 497.0h0M146.6 500.1h0M130.1 500.1h0M122.9 496.7h0M146.2 502.8h0M127.2 498.9h0M123.6 498.9h0M136.9 502.8h0M136.5 503.6h0M151.2 501.1h0M122.6 497.2h0M141.5 497.2h0M148.3 496.5h0M123.0 505.0h0M133.5 501.0h0M139.2 497.1h0M131.4 499.3h0M143.4 503.0h0M142.1 497.6h0M135.1 504.2h0M126.5 499.1h0M139.8 505.0h0M122.1 502.2h0M135.1 500.8h0M146.5 496.9h0M139.2 498.9h0M144.0 502.4h0M133.8 497.4h0M144.2 502.3h0M138.2 502.7h0M149.8 498.2h0M142.0 503.3h0M129.3 504.1h0M130.7 504.6h0M138.8 504.8h0M147.8 503.0h0M132.4 500.1h0M138.9 503.2h0M133.8 504.1h0M127.8 500.7h0M125.7 497.5h0M130.0 496.4h0M138.4 501.6h0M133.2 503.2h0M137.7 502.2h0M123.9 499.0h0M121.9 497.4h0M146.8 497.2h0M139.2 499.4h0M141.5 503.8h0M146.2 504.7h0M150.3 499.6h0M150.9 502.9h0M129.6 499.0h0M137.0 503.6h0M124.3 504.0h0M141.4 501.3h0M133.5 499.4h0M133.5 502.4h0M134.6 502.4h0M147.6 496.8h0M121.9 504.5h0M127.1 503.3h0M133.4 498.0h0M121.7 499.9h0M139.3 496.5h0M121.6 498.6h0M147.7 502.8h0M129.0 499.6h0M133.8 502.4h0M129.8 499.2h0M136.4 498.1h0M134.2 502.7h0M136.4 505.4h0M134.6 509.0h0M133.3 507.7h0M137.0 507.6h0M132.8 511.1h0M131.5 511.3h0M131.8 508.9h0M136.8 507.9h0M137.7 511.2h0M134.3 505.4h0M133.0 511.1h0M137.4 510.3h0M135.1 507.3h0M138.4 509.0h0M140.8 506.1h0M134.6 509.8h0M140.8 508.3h0M139.5 505.8h0M137.8 507.3h0M138.4 507.1h0M132.9 506.9h0M138.8 510.0h0M140.8 507.9h0M131.5 510.7h0M133.6 510.0h0M136.2 508.1h0M131.1 506.6h0M139.0 508.2h0M140.5 510.6h0M136.7 511.9h0M130.8 507.8h0M136.7 505.4h0M140.4 506.0h0M137.2 506.9h0M135.0 508.3h0M134.0 506.2h0M138.1 509.4h0M131.7 511.8h0M134.7 512.7h0M135.4 513.1h0M136.3 514.7h0M134.7 513.7h0M136.8 512.8h0" stroke="#f6961c" stroke-width="1.4" stroke-linecap="square" fill="none"/><line x1="158.5" y1="427.5" x2="158.5" y2="460" stroke="#454545" stroke-width="1" stroke-dasharray="none"/><path d="M155.7 443.0h0M157.7 442.5h0M159.4 432.0h0M161.3 441.1h0M157.6 444.7h0M161.7 436.1h0M158.2 441.4h0M159.8 441.8h0M157.2 445.1h0M158.8 441.5h0M158.7 450.1h0M157.5 445.6h0M162.3 441.3h0M159.0 450.7h0M158.8 454.1h0M162.2 439.1h0M160.4 442.9h0M156.4 440.5h0M160.6 432.7h0M161.8 438.7h0M154.6 438.6h0M157.7 456.6h0M158.9 442.9h0M159.0 448.5h0M155.3 436.5h0M155.5 434.4h0M159.7 429.9h0M160.4 433.1h0M160.7 442.4h0M158.3 434.4h0M159.6 449.4h0M160.3 435.4h0M159.5 443.9h0M160.5 438.7h0M158.6 447.0h0M157.7 452.2h0M159.3 431.0h0M158.2 442.5h0M159.3 437.9h0M156.2 441.8h0M156.8 446.3h0M156.5 446.4h0M159.0 456.3h0M157.1 443.4h0M159.0 450.4h0M161.2 442.7h0M159.5 453.5h0M158.4 434.4h0M162.3 440.7h0M161.1 436.7h0M158.2 427.5h0M158.7 460.0h0M158.2 477.5h0" stroke="#19785a" stroke-width="1.4" stroke-linecap="square" fill="none"/><line x1="180.5" y1="446.1" x2="180.5" y2="509.1" stroke="#454545" stroke-width="1" stroke-dasharray="none"/><path d="M179.7 475.7h0M180.2 492.0h0M179.9 502.1h0M180.4 450.2h0M180.8 488.2h0M180.2 493.5h0M180.3 497.3h0M180.0 501.4h0M180.3 507.9h0M181.2 495.9h0M180.8 498.5h0M180.3 502.5h0M180.1 469.0h0M180.7 494.6h0M178.2 490.5h0M178.0 491.3h0M179.9 496.9h0M180.4 494.6h0M180.6 504.1h0M180.3 474.4h0M180.8 499.5h0M182.4 481.7h0M179.4 494.9h0M181.5 473.7h0M180.7 499.0h0M180.7 465.5h0M179.1 491.0h0M181.1 462.6h0M179.0 483.2h0M181.4 494.8h0M180.7 507.3h0M181.8 494.5h0M181.3 468.0h0M182.4 497.3h0M179.3 488.1h0M180.1 455.2h0M180.3 472.8h0M179.5 479.0h0M180.2 500.6h0M180.3 505.0h0M182.2 481.5h0M178.5 491.4h0M181.5 496.4h0M180.2 484.4h0M179.0 495.0h0M180.4 497.3h0M181.0 454.9h0M180.0 481.6h0M181.1 456.4h0M181.3 455.7h0M180.3 446.1h0M180.3 509.1h0M179.2 455.1h0M181.7 454.1h0M182.3 455.4h0M182.3 466.8h0M180.3 466.2h0M179.4 467.7h0M179.5 467.8h0M182.3 467.8h0" stroke="#8a80c9" stroke-width="1.4" stroke-linecap="square" fill="none"/><line x1="202.5" y1="448.8" x2="202.5" y2="506.4" stroke="#454545" stroke-width="1" stroke-dasharray="none"/><path d="M203.9 473.2h0M201.6 462.9h0M201.9 474.3h0M203.3 457.2h0M202.3 462.5h0M202.9 489.7h0M203.3 463.0h0M202.1 462.3h0M203.1 477.1h0M202.4 468.0h0M203.0 480.3h0M203.3 489.8h0M203.4 499.1h0M202.6 486.7h0M203.4 476.5h0M203.8 485.2h0M202.9 464.8h0M203.6 468.8h0M202.9 497.9h0M203.6 478.8h0M202.1 503.9h0M203.2 483.0h0M201.2 474.0h0M202.5 465.1h0M202.9 460.0h0M202.4 501.3h0M203.1 459.9h0M203.1 468.0h0M203.2 480.5h0M203.0 451.4h0M202.5 467.1h0M202.4 451.0h0M203.5 497.4h0M203.4 457.7h0M203.8 471.4h0M202.6 481.6h0M203.8 464.6h0M203.2 500.4h0M201.2 469.0h0M204.0 465.5h0M203.1 448.8h0M202.9 506.4h0M200.2 458.8h0M198.9 459.1h0M199.1 459.7h0M200.5 459.0h0M207.3 459.3h0M196.8 458.6h0M203.4 458.7h0M203.4 458.7h0M202.4 463.2h0M203.1 462.4h0M206.1 463.9h0M205.9 463.9h0M207.5 462.7h0M203.2 462.8h0M204.5 455.3h0M201.1 455.9h0M203.0 457.0h0M201.8 455.0h0" stroke="#4a5868" stroke-width="1.4" stroke-linecap="square" fill="none"/><line x1="224.5" y1="443" x2="224.5" y2="517.2" stroke="#454545" stroke-width="1" stroke-dasharray="none"/><path d="M224.9 493.3h0M225.1 495.8h0M224.7 499.5h0M225.1 502.1h0M224.4 496.1h0M224.3 484.1h0M224.7 465.1h0M225.0 498.8h0M224.9 506.7h0M224.3 487.0h0M224.4 464.1h0M225.5 493.4h0M225.4 497.2h0M224.6 471.3h0M224.0 485.7h0M225.8 484.7h0M224.8 473.5h0M224.3 490.1h0M225.0 463.0h0M225.7 484.1h0M223.9 490.4h0M223.9 488.7h0M224.4 492.4h0M225.1 503.7h0M224.8 466.3h0M225.1 499.9h0M225.0 463.5h0M225.6 474.3h0M224.3 495.5h0M224.5 477.4h0M224.9 443.0h0M225.0 517.2h0" stroke="#1fa7e1" stroke-width="1.4" stroke-linecap="square" fill="none"/><rect x="39.5" y="488.5" width="16" height="8.0" fill="#e98a9c" stroke="#262626" stroke-width="1.1"/><line x1="39.5" y1="491.5" x2="55.5" y2="491.5" stroke="#262626" stroke-width="1.1"/><rect x="61.5" y="483.5" width="16" height="10.0" fill="#89a9c7" stroke="#262626" stroke-width="1.1"/><line x1="61.5" y1="488.5" x2="77.5" y2="488.5" stroke="#262626" stroke-width="1.1"/><rect x="84.5" y="480.5" width="16" height="18.0" fill="#a5dba3" stroke="#262626" stroke-width="1.1"/><line x1="84.5" y1="492.5" x2="100.5" y2="492.5" stroke="#262626" stroke-width="1.1"/><rect x="106.5" y="465.5" width="16" height="38.0" fill="#ae93c0" stroke="#262626" stroke-width="1.1"/><line x1="106.5" y1="482.5" x2="122.5" y2="482.5" stroke="#262626" stroke-width="1.1"/><rect x="128.5" y="496.5" width="16" height="8.0" fill="#fcd18b" stroke="#262626" stroke-width="1.1"/><line x1="128.5" y1="501.5" x2="144.5" y2="501.5" stroke="#262626" stroke-width="1.1"/><rect x="150.5" y="434.5" width="16" height="9.0" fill="#7fbfa6" stroke="#262626" stroke-width="1.1"/><line x1="150.5" y1="438.5" x2="166.5" y2="438.5" stroke="#262626" stroke-width="1.1"/><rect x="172.5" y="478.5" width="16" height="20.0" fill="#c9c4ea" stroke="#262626" stroke-width="1.1"/><line x1="172.5" y1="492.5" x2="188.5" y2="492.5" stroke="#262626" stroke-width="1.1"/><rect x="194.5" y="463.5" width="16" height="21.0" fill="#a3a8ad" stroke="#262626" stroke-width="1.1"/><line x1="194.5" y1="469.5" x2="210.5" y2="469.5" stroke="#262626" stroke-width="1.1"/><rect x="216.5" y="474.5" width="16" height="24.0" fill="#95d7f3" stroke="#262626" stroke-width="1.1"/><line x1="216.5" y1="492.5" x2="232.5" y2="492.5" stroke="#262626" stroke-width="1.1"/><path d="M34.6 408.8 V535 H237.5" fill="none" stroke="#1a1a1a" stroke-width="1.3"/><line x1="31.6" y1="438.1" x2="34.6" y2="438.1" stroke="#1a1a1a" stroke-width="1"/><text x="28.1" y="440.8" text-anchor="end" font-size="8" letter-spacing="-0.2">10000</text><line x1="31.6" y1="463.5" x2="34.6" y2="463.5" stroke="#1a1a1a" stroke-width="1"/><text x="28.1" y="466.2" text-anchor="end" font-size="8" letter-spacing="-0.2">1000</text><line x1="31.6" y1="488.8" x2="34.6" y2="488.8" stroke="#1a1a1a" stroke-width="1"/><text x="28.1" y="491.5" text-anchor="end" font-size="8" letter-spacing="-0.2">100</text><line x1="31.6" y1="514" x2="34.6" y2="514" stroke="#1a1a1a" stroke-width="1"/><text x="28.1" y="516.7" text-anchor="end" font-size="8" letter-spacing="-0.2">10</text><line x1="47.5" y1="535" x2="47.5" y2="537.8" stroke="#1a1a1a" stroke-width="1"/><text x="50.6" y="543.5" text-anchor="end" font-size="7.7" transform="rotate(-45 50.6 543.5)">BL</text><text x="47.7" y="410.7" text-anchor="middle" font-size="7.3">75</text><text x="47.7" y="419.4" text-anchor="middle" font-size="6.5" font-weight="bold" fill="#222">*</text><line x1="69.5" y1="535" x2="69.5" y2="537.8" stroke="#1a1a1a" stroke-width="1"/><text x="72.75" y="543.5" text-anchor="end" font-size="7.7" transform="rotate(-45 72.75 543.5)">CD10<tspan font-size="5.5" dy="-2.8">−</tspan><tspan dy="2.8"> DLBCL</tspan></text><text x="69.85" y="410.7" text-anchor="middle" font-size="7.3">103</text><text x="69.85" y="419.4" text-anchor="middle" font-size="6.5" font-weight="bold" fill="#222">***</text><line x1="92.5" y1="535" x2="92.5" y2="537.8" stroke="#1a1a1a" stroke-width="1"/><text x="94.9" y="543.5" text-anchor="end" font-size="7.7" transform="rotate(-45 94.9 543.5)">CD10<tspan font-size="5.5" dy="-2.8">+</tspan><tspan dy="2.8"> DLBCL</tspan></text><text x="92.0" y="410.7" text-anchor="middle" font-size="7.3">74</text><text x="92.0" y="419.4" text-anchor="middle" font-size="6.5" font-weight="bold" fill="#222">**</text><line x1="114.5" y1="535" x2="114.5" y2="537.8" stroke="#1a1a1a" stroke-width="1"/><text x="117.05000000000001" y="543.5" text-anchor="end" font-size="7.7" transform="rotate(-45 117.05000000000001 543.5)">CLL</text><text x="114.15" y="410.7" text-anchor="middle" font-size="7.3">172</text><text x="114.15" y="419.4" text-anchor="middle" font-size="6.5" font-weight="bold" fill="#222">***</text><line x1="136.5" y1="535" x2="136.5" y2="537.8" stroke="#1a1a1a" stroke-width="1"/><text x="139.20000000000002" y="543.5" text-anchor="end" font-size="7.7" transform="rotate(-45 139.20000000000002 543.5)">FL</text><text x="136.3" y="410.7" text-anchor="middle" font-size="7.3">32</text><text x="136.3" y="419.9" text-anchor="middle" font-size="7.4" font-style="italic" font-weight="bold" fill="#222">#</text><line x1="158.5" y1="535" x2="158.5" y2="537.8" stroke="#1a1a1a" stroke-width="1"/><text x="161.35" y="543.5" text-anchor="end" font-size="7.7" transform="rotate(-45 161.35 543.5)">HCL</text><text x="158.45" y="410.7" text-anchor="middle" font-size="7.3">9577</text><text x="158.45" y="419.4" text-anchor="middle" font-size="6.5" font-weight="bold" fill="#222">***</text><line x1="180.5" y1="535" x2="180.5" y2="537.8" stroke="#1a1a1a" stroke-width="1"/><text x="183.5" y="543.5" text-anchor="end" font-size="7.7" transform="rotate(-45 183.5 543.5)">LPL</text><text x="180.6" y="410.7" text-anchor="middle" font-size="7.3">73</text><text x="180.6" y="419.4" text-anchor="middle" font-size="6.5" font-weight="bold" fill="#222">***</text><line x1="202.5" y1="535" x2="202.5" y2="537.8" stroke="#1a1a1a" stroke-width="1"/><text x="205.65" y="543.5" text-anchor="end" font-size="7.7" transform="rotate(-45 205.65 543.5)">MCL</text><text x="202.75" y="410.7" text-anchor="middle" font-size="7.3">568</text><text x="202.75" y="419.4" text-anchor="middle" font-size="6.5" font-weight="bold" fill="#222">***</text><line x1="224.5" y1="535" x2="224.5" y2="537.8" stroke="#1a1a1a" stroke-width="1"/><text x="227.8" y="543.5" text-anchor="end" font-size="7.7" transform="rotate(-45 227.8 543.5)">MZL</text><text x="224.9" y="410.7" text-anchor="middle" font-size="7.3">75</text><text x="224.9" y="419.4" text-anchor="middle" font-size="6.5" font-weight="bold" fill="#222">***</text><text x="42.4" y="530.8" text-anchor="start" font-size="7.7" font-weight="bold">CD305</text></g>
<g><line x1="321.5" y1="457" x2="321.5" y2="478.5" stroke="#454545" stroke-width="1" stroke-dasharray="none"/><path d="M322.3 471.2h0M321.1 462.3h0M322.0 471.8h0M321.8 468.1h0M321.3 472.2h0M322.4 470.9h0M322.3 466.4h0M320.9 468.3h0M321.2 469.1h0M323.0 468.3h0M322.0 468.3h0M321.2 475.3h0M321.6 469.5h0M322.2 458.5h0M322.5 464.5h0M321.2 470.5h0M321.5 464.0h0M322.4 461.6h0M321.6 478.4h0M321.2 469.6h0M322.3 459.3h0M322.3 472.8h0M321.1 463.8h0M321.5 464.4h0M322.7 466.8h0M322.1 457.0h0M322.2 478.5h0M322.1 427.8h0M321.5 486.9h0" stroke="#d52a45" stroke-width="1.4" stroke-linecap="square" fill="none"/><line x1="343.5" y1="452" x2="343.5" y2="476.5" stroke="#454545" stroke-width="1" stroke-dasharray="none"/><path d="M343.5 474.4h0M342.7 463.8h0M344.2 467.5h0M345.1 463.1h0M344.6 454.6h0M344.4 454.4h0M342.4 466.4h0M343.1 460.8h0M344.9 466.0h0M344.2 471.6h0M344.3 467.7h0M345.1 461.4h0M344.0 471.2h0M345.1 470.5h0M342.1 461.7h0M342.4 460.6h0M344.9 465.8h0M343.3 469.6h0M345.5 466.5h0M343.1 457.2h0M343.9 473.7h0M343.1 459.8h0M343.5 466.9h0M344.4 457.2h0M343.7 454.6h0M343.6 466.9h0M343.6 467.7h0M343.9 455.7h0M342.9 459.7h0M344.6 456.9h0M342.6 463.2h0M346.1 464.7h0M344.5 458.9h0M344.8 461.0h0M342.9 458.6h0M344.1 462.6h0M344.5 468.2h0M341.9 465.3h0M343.6 466.8h0M344.7 458.0h0M343.8 458.5h0M344.0 470.0h0M345.4 463.0h0M343.0 468.8h0M345.7 463.1h0M344.8 465.4h0M342.9 461.4h0M343.1 458.7h0M344.9 458.6h0M343.7 475.6h0M344.3 452.0h0M344.1 476.5h0M343.5 427.8h0M343.8 445.6h0M345.1 457.1h0M346.6 457.6h0M346.0 458.0h0M343.0 457.8h0M341.0 457.6h0M340.7 470.0h0M343.5 469.1h0M345.1 470.6h0M341.7 469.5h0M346.1 470.1h0M340.1 469.6h0" stroke="#1e5a96" stroke-width="1.4" stroke-linecap="square" fill="none"/><line x1="366.5" y1="453.4" x2="366.5" y2="484.6" stroke="#454545" stroke-width="1" stroke-dasharray="none"/><path d="M365.9 463.0h0M366.7 469.4h0M365.9 454.9h0M367.8 465.2h0M365.3 454.6h0M366.4 459.9h0M365.6 460.2h0M364.8 458.3h0M365.2 459.6h0M366.8 458.0h0M366.3 470.4h0M367.6 460.3h0M365.5 470.3h0M366.1 456.2h0M364.0 463.5h0M365.1 473.9h0M368.2 465.8h0M366.0 475.1h0M366.1 466.3h0M365.7 466.6h0M365.4 454.8h0M368.1 464.2h0M366.3 473.0h0M365.1 462.0h0M367.8 463.2h0M367.0 462.1h0M365.2 469.7h0M364.4 465.7h0M367.3 468.3h0M365.9 456.9h0M366.7 472.6h0M366.9 463.1h0M367.5 460.0h0M366.1 459.1h0M366.8 465.6h0M365.2 458.1h0M368.0 466.1h0M365.3 475.5h0M365.1 471.4h0M367.5 472.1h0M366.2 453.4h0M366.5 476.0h0M365.8 430.1h0M368.0 474.2h0M369.2 473.7h0M365.8 474.6h0M364.2 473.7h0M368.9 474.3h0M366.0 473.0h0" stroke="#33b24b" stroke-width="1.4" stroke-linecap="square" fill="none"/><line x1="388.5" y1="443.4" x2="388.5" y2="467.5" stroke="#5b1b72" stroke-width="1" stroke-dasharray="1.5 1.5"/><path d="M388.5 443.4h0M388.2 467.5h0M383.0 446.1h0M381.0 448.6h0M394.2 449.3h0M391.8 444.9h0M386.7 449.5h0M378.3 445.9h0M381.3 444.9h0M383.8 447.4h0M379.6 448.8h0M386.9 445.0h0M380.3 446.9h0M385.3 446.8h0M380.4 446.0h0M388.4 444.5h0M388.3 448.6h0M390.1 444.7h0M390.9 444.5h0M381.1 444.1h0M388.9 445.0h0M383.9 444.7h0M396.2 444.8h0M391.8 448.4h0M387.3 447.2h0M384.9 448.5h0M392.0 444.4h0M392.4 444.8h0M387.9 445.0h0M388.0 447.6h0M392.9 445.8h0M379.4 446.5h0M396.6 447.0h0M390.7 448.2h0M391.0 449.2h0M397.4 448.1h0M394.4 444.8h0M383.6 447.9h0M389.9 448.7h0M393.8 445.8h0M381.7 447.6h0M380.5 446.7h0M383.8 446.2h0M391.4 447.5h0M390.6 444.3h0M396.2 447.9h0M396.4 447.4h0M391.2 448.9h0M393.2 447.5h0M379.1 444.1h0M392.6 448.7h0M386.0 445.2h0M387.9 443.4h0M389.8 441.0h0M386.5 441.2h0M389.8 441.4h0M390.6 441.9h0M386.4 442.0h0M377.1 455.2h0M373.5 451.9h0M384.5 449.3h0M379.7 455.9h0M399.4 451.9h0M399.8 455.4h0M399.4 454.1h0M390.4 452.6h0M395.0 453.2h0M402.9 450.3h0M400.6 454.3h0M386.5 454.9h0M381.7 451.7h0M390.7 455.8h0M380.3 454.9h0M393.2 455.4h0M382.1 453.6h0M400.3 455.2h0M394.4 454.9h0M392.4 452.9h0M378.7 452.6h0M403.1 455.6h0M374.1 451.1h0M380.2 454.9h0M378.4 454.4h0M378.9 451.4h0M402.9 449.9h0M390.8 450.9h0M396.2 449.5h0M393.8 450.8h0M402.5 451.3h0M393.5 449.2h0M401.9 453.4h0M401.1 454.2h0M380.4 459.7h0M386.1 457.0h0M395.3 459.3h0M385.6 456.4h0M391.0 456.3h0M383.6 456.2h0M382.4 459.7h0M384.1 460.9h0M384.3 460.0h0M392.5 459.2h0M390.2 456.7h0M394.2 460.6h0M388.8 456.9h0M380.8 457.3h0M396.8 457.6h0M384.3 458.6h0M379.9 459.9h0M393.3 457.5h0M379.8 460.5h0M393.9 459.8h0M383.1 460.8h0M390.8 456.2h0M396.9 459.5h0M382.6 460.5h0M390.0 459.2h0M379.8 457.1h0M393.5 456.1h0M382.8 456.3h0M389.8 456.7h0M393.4 458.3h0M393.4 460.6h0M396.8 457.0h0M385.8 460.0h0M385.3 460.7h0M385.3 459.1h0M383.9 459.6h0M384.4 458.1h0M392.3 460.1h0M381.8 456.9h0M383.1 459.8h0M391.4 459.6h0M393.8 457.2h0M388.2 456.0h0M385.6 459.0h0M384.0 460.0h0M386.6 463.7h0M389.4 462.3h0M389.3 463.4h0M385.6 461.6h0M389.2 465.9h0M389.4 466.2h0M389.3 465.7h0M390.3 464.6h0M388.5 462.0h0M386.7 461.5h0" stroke="#5b1b72" stroke-width="1.4" stroke-linecap="square" fill="none"/><line x1="410.5" y1="451.3" x2="410.5" y2="486.3" stroke="#454545" stroke-width="1" stroke-dasharray="none"/><path d="M408.4 465.0h0M416.2 473.8h0M407.4 465.0h0M408.7 459.0h0M411.4 452.2h0M402.3 472.3h0M413.2 468.6h0M404.2 470.6h0M405.6 472.1h0M410.5 466.7h0M410.1 455.4h0M413.8 465.9h0M411.3 451.6h0M409.9 466.7h0M410.6 477.0h0M405.1 470.7h0M412.4 454.7h0M410.7 475.7h0M410.0 482.5h0M412.8 485.0h0M410.0 458.4h0M407.9 468.0h0M409.1 478.3h0M415.1 470.9h0M407.3 477.9h0M411.0 481.8h0M416.4 471.4h0M409.8 460.2h0M412.5 484.9h0M408.0 460.0h0M412.3 454.9h0M417.6 471.3h0M407.7 478.2h0M410.6 456.1h0M414.1 471.3h0M410.5 455.9h0M406.0 468.3h0M411.9 476.8h0M407.1 476.5h0M407.6 475.8h0M414.3 475.2h0M406.5 472.3h0M409.7 461.9h0M408.8 456.7h0M409.8 459.8h0M411.3 482.6h0M414.0 479.8h0M407.7 474.6h0M410.2 486.1h0M405.3 473.3h0M409.8 461.9h0M407.7 471.5h0M415.1 466.8h0M410.4 484.6h0M410.7 453.4h0M414.7 470.7h0M411.3 470.8h0M409.5 458.2h0M410.1 459.2h0M405.9 467.9h0M410.0 453.1h0M417.0 470.7h0M415.3 476.9h0M404.3 471.4h0M405.6 474.1h0M417.8 473.7h0M413.8 470.3h0M405.1 469.7h0M409.9 459.2h0M406.9 474.5h0M406.9 466.0h0M408.5 454.5h0M415.0 466.8h0M409.5 467.9h0M409.2 453.2h0M409.5 458.6h0M405.6 472.9h0M413.2 476.3h0M403.4 470.0h0M404.5 469.2h0M410.3 482.5h0M406.4 473.7h0M414.7 464.8h0M403.6 473.4h0M410.7 483.6h0M417.5 473.6h0M409.3 457.6h0M410.2 474.6h0M410.6 469.8h0M409.1 485.1h0M413.4 477.3h0M412.0 462.9h0M412.7 482.6h0M410.9 463.2h0M407.6 467.0h0M403.4 471.8h0M415.3 472.0h0M410.8 454.1h0M408.2 469.4h0M409.5 479.7h0M407.1 473.5h0M404.5 469.5h0M412.6 464.8h0M408.4 472.8h0M411.0 461.1h0M416.2 469.3h0M407.6 474.3h0M414.5 463.7h0M415.5 471.5h0M412.1 466.1h0M413.9 463.0h0M413.5 463.0h0M413.4 481.7h0M406.6 474.9h0M414.2 463.3h0M413.7 462.1h0M414.8 474.6h0M409.1 451.7h0M412.7 459.7h0M409.0 476.1h0M410.3 453.0h0M414.5 467.3h0M409.4 453.6h0M412.6 477.2h0M412.8 462.5h0M412.3 454.1h0M412.9 470.2h0M406.4 466.6h0M411.0 468.3h0M404.7 468.4h0M416.9 468.7h0M407.6 477.8h0M416.2 472.4h0M411.3 458.3h0M410.5 470.1h0M417.4 469.0h0M407.1 466.3h0M418.4 471.9h0M413.3 479.6h0M417.0 470.3h0M415.1 472.8h0M408.7 455.9h0M414.3 463.6h0M409.0 475.2h0M409.7 451.5h0M409.9 479.3h0M417.9 469.7h0M410.4 465.9h0M409.7 465.9h0M409.8 474.0h0M408.7 484.6h0M410.0 467.1h0M410.4 456.6h0M407.4 471.4h0M410.9 454.9h0M413.6 469.9h0M412.3 468.7h0M411.3 483.6h0M412.5 479.8h0M417.5 472.1h0M410.3 451.3h0M410.5 486.3h0M410.7 492.0h0M410.1 530.0h0" stroke="#f6961c" stroke-width="1.4" stroke-linecap="square" fill="none"/><line x1="432.5" y1="430.5" x2="432.5" y2="468" stroke="#454545" stroke-width="1" stroke-dasharray="none"/><path d="M437.9 444.3h0M429.1 446.5h0M431.8 454.3h0M434.0 439.7h0M436.8 446.4h0M433.4 436.7h0M437.0 445.9h0M433.3 449.8h0M436.3 446.4h0M431.7 456.1h0M436.6 447.0h0M432.9 458.5h0M429.6 447.7h0M432.9 439.1h0M432.7 465.5h0M430.7 443.6h0M432.6 438.0h0M429.4 445.3h0M429.9 446.4h0M431.2 444.1h0M434.8 442.3h0M433.8 431.9h0M432.2 442.7h0M433.3 460.0h0M434.1 434.7h0M431.7 455.6h0M434.6 447.2h0M432.6 432.9h0M435.4 447.6h0M433.2 443.2h0M432.2 445.5h0M431.4 443.4h0M432.8 442.4h0M428.4 442.2h0M432.3 443.8h0M433.3 437.4h0M432.7 432.3h0M431.0 445.8h0M430.6 440.5h0M435.6 444.5h0M433.0 458.9h0M432.2 438.0h0M433.0 434.9h0M429.4 445.3h0M433.8 432.9h0M434.4 440.1h0M432.9 454.9h0M432.9 450.1h0M431.6 450.4h0M431.3 451.4h0M433.1 430.5h0M432.3 468.0h0" stroke="#19785a" stroke-width="1.4" stroke-linecap="square" fill="none"/><line x1="454.5" y1="430.5" x2="454.5" y2="472.5" stroke="#454545" stroke-width="1" stroke-dasharray="none"/><path d="M455.7 454.1h0M455.0 472.2h0M453.8 443.5h0M456.6 456.9h0M453.2 460.7h0M449.2 453.8h0M456.8 464.3h0M453.6 468.3h0M458.7 457.5h0M450.9 453.6h0M455.0 453.2h0M450.6 452.8h0M451.7 458.6h0M453.8 445.7h0M454.3 471.9h0M455.2 439.5h0M453.9 436.3h0M455.4 469.9h0M452.8 464.5h0M460.3 454.7h0M455.6 460.2h0M457.5 450.5h0M453.4 458.1h0M454.1 439.7h0M455.3 432.8h0M453.5 464.0h0M453.7 446.7h0M452.1 452.6h0M456.6 461.0h0M454.4 457.2h0M454.9 467.6h0M450.3 452.4h0M451.2 450.8h0M459.1 453.7h0M454.7 451.2h0M454.8 443.0h0M456.3 455.3h0M458.2 451.4h0M456.9 458.7h0M455.3 457.4h0M453.9 459.7h0M454.2 458.0h0M457.5 450.7h0M455.1 457.8h0M449.9 457.6h0M457.8 460.0h0M457.9 457.2h0M454.7 467.7h0M458.9 459.0h0M455.0 433.2h0M455.8 440.1h0M451.9 453.0h0M455.8 436.2h0M460.9 454.5h0M454.9 446.2h0M450.1 452.5h0M453.8 445.8h0M455.8 447.9h0M452.3 457.3h0M454.3 434.8h0M452.9 465.1h0M457.2 455.9h0M452.9 461.7h0M450.2 454.6h0M454.4 436.0h0M457.3 452.8h0M455.5 434.2h0M454.1 437.8h0M456.9 457.6h0M453.0 453.4h0M454.5 430.5h0M455.1 472.5h0" stroke="#8a80c9" stroke-width="1.4" stroke-linecap="square" fill="none"/><line x1="476.5" y1="438" x2="476.5" y2="471.3" stroke="#454545" stroke-width="1" stroke-dasharray="none"/><path d="M478.5 450.9h0M477.3 470.1h0M480.5 455.4h0M475.8 444.7h0M472.4 457.9h0M473.5 459.4h0M479.3 457.3h0M474.7 450.6h0M474.8 455.8h0M477.0 466.3h0M477.3 452.4h0M478.6 443.2h0M472.9 459.6h0M479.5 454.6h0M476.0 467.9h0M475.4 454.1h0M478.9 462.6h0M480.6 461.2h0M477.1 446.4h0M477.2 442.2h0M478.2 440.5h0M476.8 456.4h0M476.2 442.0h0M473.6 452.0h0M474.3 449.3h0M477.7 448.5h0M476.3 453.4h0M473.9 451.2h0M476.2 462.6h0M477.9 447.3h0M474.4 450.6h0M475.6 442.3h0M478.5 451.6h0M479.2 458.2h0M480.4 452.5h0M477.3 461.3h0M480.4 454.9h0M475.2 460.9h0M478.1 443.6h0M475.5 468.6h0M477.1 449.2h0M481.9 458.9h0M481.8 459.1h0M480.8 455.2h0M475.2 466.2h0M472.1 457.7h0M478.0 445.3h0M480.8 460.3h0M476.7 445.6h0M479.3 462.5h0M475.7 450.7h0M480.6 458.2h0M473.9 457.7h0M479.7 463.9h0M475.4 452.4h0M478.9 459.8h0M479.7 451.8h0M479.9 464.4h0M474.6 452.2h0M477.8 449.1h0M475.1 458.5h0M478.2 459.5h0M473.6 461.7h0M478.9 467.6h0M477.3 466.7h0M474.5 461.1h0M478.6 445.1h0M474.2 451.5h0M476.7 465.1h0M478.4 469.0h0M476.9 438.0h0M476.5 471.3h0" stroke="#4a5868" stroke-width="1.4" stroke-linecap="square" fill="none"/><line x1="499.5" y1="434.5" x2="499.5" y2="482" stroke="#454545" stroke-width="1" stroke-dasharray="none"/><path d="M498.5 456.3h0M499.4 441.2h0M499.1 446.8h0M499.2 447.2h0M498.7 476.0h0M496.9 464.8h0M499.3 479.8h0M500.2 448.6h0M499.3 457.5h0M498.5 439.8h0M496.9 462.8h0M499.3 444.4h0M500.8 462.9h0M499.2 455.0h0M501.4 462.5h0M497.7 454.2h0M498.1 476.4h0M499.4 480.5h0M497.5 463.5h0M497.0 465.8h0M501.5 466.7h0M497.6 470.1h0M498.4 435.3h0M496.7 461.9h0M498.3 453.8h0M497.8 473.2h0M497.8 450.3h0M498.6 481.5h0M500.2 463.1h0M500.7 466.8h0M499.4 460.5h0M498.4 464.6h0M502.4 461.1h0M496.0 460.0h0M500.9 452.8h0M500.1 465.3h0M498.6 459.0h0M498.2 471.1h0M495.9 460.6h0M499.3 468.3h0M499.3 444.5h0M499.0 435.2h0M497.1 454.5h0M498.8 443.5h0M498.6 478.9h0M498.9 434.5h0M498.7 482.0h0" stroke="#1fa7e1" stroke-width="1.4" stroke-linecap="square" fill="none"/><rect x="313.5" y="464.5" width="16" height="8.0" fill="#e98a9c" stroke="#262626" stroke-width="1.1"/><line x1="313.5" y1="468.5" x2="329.5" y2="468.5" stroke="#262626" stroke-width="1.1"/><rect x="335.5" y="459.5" width="16" height="9.0" fill="#89a9c7" stroke="#262626" stroke-width="1.1"/><line x1="335.5" y1="463.5" x2="351.5" y2="463.5" stroke="#262626" stroke-width="1.1"/><rect x="358.5" y="460.5" width="16" height="11.0" fill="#a5dba3" stroke="#262626" stroke-width="1.1"/><line x1="358.5" y1="465.5" x2="374.5" y2="465.5" stroke="#262626" stroke-width="1.1"/><rect x="380.5" y="450.5" width="16" height="6.0" fill="#ae93c0" stroke="#262626" stroke-width="1.1"/><line x1="380.5" y1="452.5" x2="396.5" y2="452.5" stroke="#262626" stroke-width="1.1"/><rect x="402.5" y="466.5" width="16" height="10.0" fill="#fcd18b" stroke="#262626" stroke-width="1.1"/><line x1="402.5" y1="471.5" x2="418.5" y2="471.5" stroke="#262626" stroke-width="1.1"/><rect x="424.5" y="440.5" width="16" height="8.0" fill="#7fbfa6" stroke="#262626" stroke-width="1.1"/><line x1="424.5" y1="444.5" x2="440.5" y2="444.5" stroke="#262626" stroke-width="1.1"/><rect x="446.5" y="452.5" width="16" height="6.0" fill="#c9c4ea" stroke="#262626" stroke-width="1.1"/><line x1="446.5" y1="455.5" x2="462.5" y2="455.5" stroke="#262626" stroke-width="1.1"/><rect x="468.5" y="452.5" width="16" height="10.0" fill="#a3a8ad" stroke="#262626" stroke-width="1.1"/><line x1="468.5" y1="457.5" x2="484.5" y2="457.5" stroke="#262626" stroke-width="1.1"/><rect x="491.5" y="454.5" width="16" height="15.0" fill="#95d7f3" stroke="#262626" stroke-width="1.1"/><line x1="491.5" y1="461.5" x2="507.5" y2="461.5" stroke="#262626" stroke-width="1.1"/><path d="M308.8 408.8 V535 H512.5" fill="none" stroke="#1a1a1a" stroke-width="1.3"/><line x1="305.8" y1="425.6" x2="308.8" y2="425.6" stroke="#1a1a1a" stroke-width="1"/><text x="302.3" y="428.3" text-anchor="end" font-size="8" letter-spacing="-0.2">10000</text><line x1="305.8" y1="450.1" x2="308.8" y2="450.1" stroke="#1a1a1a" stroke-width="1"/><text x="302.3" y="452.8" text-anchor="end" font-size="8" letter-spacing="-0.2">1000</text><line x1="305.8" y1="474.1" x2="308.8" y2="474.1" stroke="#1a1a1a" stroke-width="1"/><text x="302.3" y="476.8" text-anchor="end" font-size="8" letter-spacing="-0.2">100</text><line x1="305.8" y1="498.2" x2="308.8" y2="498.2" stroke="#1a1a1a" stroke-width="1"/><text x="302.3" y="500.9" text-anchor="end" font-size="8" letter-spacing="-0.2">10</text><line x1="305.8" y1="522.5" x2="308.8" y2="522.5" stroke="#1a1a1a" stroke-width="1"/><text x="302.3" y="525.2" text-anchor="end" font-size="8" letter-spacing="-0.2">1</text><line x1="321.5" y1="535" x2="321.5" y2="537.8" stroke="#1a1a1a" stroke-width="1"/><text x="325.7" y="543.5" text-anchor="end" font-size="7.7" transform="rotate(-45 325.7 543.5)">BL</text><text x="321.8" y="410.7" text-anchor="middle" font-size="7.3">172</text><line x1="343.5" y1="535" x2="343.5" y2="537.8" stroke="#1a1a1a" stroke-width="1"/><text x="347.85999999999996" y="543.5" text-anchor="end" font-size="7.7" transform="rotate(-45 347.85999999999996 543.5)">CD10<tspan font-size="5.5" dy="-2.8">−</tspan><tspan dy="2.8"> DLBCL</tspan></text><text x="343.96" y="410.7" text-anchor="middle" font-size="7.3">259</text><text x="343.96" y="419.4" text-anchor="middle" font-size="6.5" font-weight="bold" fill="#222">*</text><line x1="366.5" y1="535" x2="366.5" y2="537.8" stroke="#1a1a1a" stroke-width="1"/><text x="370.02" y="543.5" text-anchor="end" font-size="7.7" transform="rotate(-45 370.02 543.5)">CD10<tspan font-size="5.5" dy="-2.8">+</tspan><tspan dy="2.8"> DLBCL</tspan></text><text x="366.12" y="410.7" text-anchor="middle" font-size="7.3">215</text><line x1="388.5" y1="535" x2="388.5" y2="537.8" stroke="#1a1a1a" stroke-width="1"/><text x="392.17999999999995" y="543.5" text-anchor="end" font-size="7.7" transform="rotate(-45 392.17999999999995 543.5)">CLL</text><text x="388.28" y="410.7" text-anchor="middle" font-size="7.3">730</text><text x="388.28" y="419.4" text-anchor="middle" font-size="6.5" font-weight="bold" fill="#222">***</text><line x1="410.5" y1="535" x2="410.5" y2="537.8" stroke="#1a1a1a" stroke-width="1"/><text x="414.34" y="543.5" text-anchor="end" font-size="7.7" transform="rotate(-45 414.34 543.5)">FL</text><text x="410.44" y="410.7" text-anchor="middle" font-size="7.3">120</text><text x="410.44" y="419.9" text-anchor="middle" font-size="7.4" font-style="italic" font-weight="bold" fill="#222">#</text><line x1="432.5" y1="535" x2="432.5" y2="537.8" stroke="#1a1a1a" stroke-width="1"/><text x="436.5" y="543.5" text-anchor="end" font-size="7.7" transform="rotate(-45 436.5 543.5)">HCL</text><text x="432.6" y="410.7" text-anchor="middle" font-size="7.3">1641</text><text x="432.6" y="419.4" text-anchor="middle" font-size="6.5" font-weight="bold" fill="#222">***</text><line x1="454.5" y1="535" x2="454.5" y2="537.8" stroke="#1a1a1a" stroke-width="1"/><text x="458.65999999999997" y="543.5" text-anchor="end" font-size="7.7" transform="rotate(-45 458.65999999999997 543.5)">LPL</text><text x="454.76" y="410.7" text-anchor="middle" font-size="7.3">552</text><text x="454.76" y="419.4" text-anchor="middle" font-size="6.5" font-weight="bold" fill="#222">***</text><line x1="476.5" y1="535" x2="476.5" y2="537.8" stroke="#1a1a1a" stroke-width="1"/><text x="480.82" y="543.5" text-anchor="end" font-size="7.7" transform="rotate(-45 480.82 543.5)">MCL</text><text x="476.92" y="410.7" text-anchor="middle" font-size="7.3">513</text><text x="476.92" y="419.4" text-anchor="middle" font-size="6.5" font-weight="bold" fill="#222">***</text><line x1="499.5" y1="535" x2="499.5" y2="537.8" stroke="#1a1a1a" stroke-width="1"/><text x="502.97999999999996" y="543.5" text-anchor="end" font-size="7.7" transform="rotate(-45 502.97999999999996 543.5)">MZL</text><text x="499.08" y="410.7" text-anchor="middle" font-size="7.3">307</text><text x="499.08" y="419.4" text-anchor="middle" font-size="6.5" font-weight="bold" fill="#222">**</text><text x="320.9" y="530.8" text-anchor="start" font-size="7.7" font-weight="bold">CD31</text></g>
</svg>
</body></html>
